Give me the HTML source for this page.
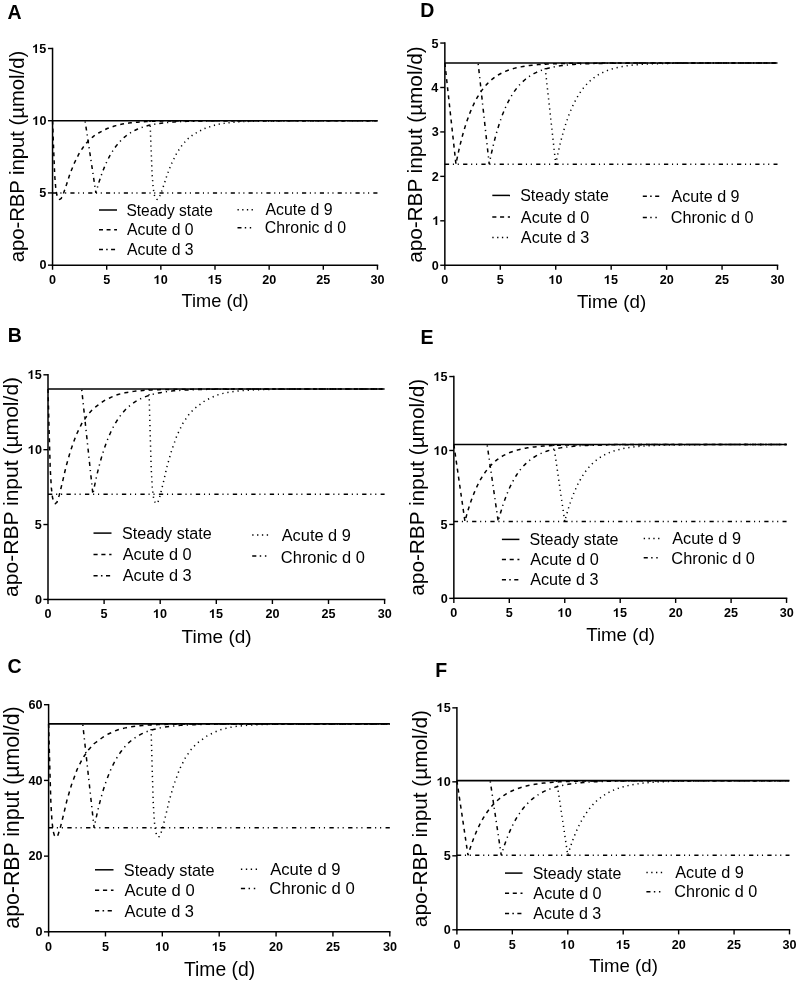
<!DOCTYPE html>
<html><head><meta charset="utf-8"><style>
html,body{margin:0;padding:0;background:#fff;}
svg{display:block;font-family:"Liberation Sans", sans-serif;}
text{fill:#000;}
svg{will-change:transform;}
</style></head><body>
<svg width="799" height="982" viewBox="0 0 799 982">
<rect width="799" height="982" fill="#fff"/>
<g>
<text x="7.51" y="19.00" font-size="19.50" font-weight="bold" text-anchor="start">A</text>
<path d="M52.55,48.50 L52.55,265.15" stroke="#000" stroke-width="1.5" fill="none" stroke-linecap="square"/>
<path d="M52.55,265.15 L377.45,265.15" stroke="#000" stroke-width="1.5" fill="none" stroke-linecap="square"/>
<path d="M47.95,265.15 L52.55,265.15" stroke="#000" stroke-width="1.4"/>
<text x="39.46" y="269.00" font-size="12.60" font-weight="bold" text-anchor="start">0</text>
<path d="M47.95,192.93 L52.55,192.93" stroke="#000" stroke-width="1.4"/>
<text x="39.29" y="197.00" font-size="12.60" font-weight="bold" text-anchor="start">5</text>
<path d="M47.95,120.72 L52.55,120.72" stroke="#000" stroke-width="1.4"/>
<path d="M768,0L768,1430L545,1430Q500,1310 380,1215Q250,1120 124,1080L124,835Q335,905 487,1040L487,0Z" transform="translate(32.45,125.00) scale(0.00615,-0.00615)"/><text x="39.46" y="125.00" font-size="12.60" font-weight="bold" text-anchor="start">0</text>
<path d="M47.95,48.50 L52.55,48.50" stroke="#000" stroke-width="1.4"/>
<path d="M768,0L768,1430L545,1430Q500,1310 380,1215Q250,1120 124,1080L124,835Q335,905 487,1040L487,0Z" transform="translate(32.29,53.00) scale(0.00615,-0.00615)"/><text x="39.29" y="53.00" font-size="12.60" font-weight="bold" text-anchor="start">5</text>
<path d="M52.55,265.15 L52.55,269.75" stroke="#000" stroke-width="1.4"/>
<text x="49.06" y="284.00" font-size="12.60" font-weight="bold" text-anchor="start">0</text>
<path d="M106.70,265.15 L106.70,269.75" stroke="#000" stroke-width="1.4"/>
<text x="103.18" y="284.00" font-size="12.60" font-weight="bold" text-anchor="start">5</text>
<path d="M160.85,265.15 L160.85,269.75" stroke="#000" stroke-width="1.4"/>
<path d="M768,0L768,1430L545,1430Q500,1310 380,1215Q250,1120 124,1080L124,835Q335,905 487,1040L487,0Z" transform="translate(153.72,284.00) scale(0.00615,-0.00615)"/><text x="160.73" y="284.00" font-size="12.60" font-weight="bold" text-anchor="start">0</text>
<path d="M215.00,265.15 L215.00,269.75" stroke="#000" stroke-width="1.4"/>
<path d="M768,0L768,1430L545,1430Q500,1310 380,1215Q250,1120 124,1080L124,835Q335,905 487,1040L487,0Z" transform="translate(207.79,284.00) scale(0.00615,-0.00615)"/><text x="214.79" y="284.00" font-size="12.60" font-weight="bold" text-anchor="start">5</text>
<path d="M269.15,265.15 L269.15,269.75" stroke="#000" stroke-width="1.4"/>
<text x="262.18" y="284.00" font-size="12.60" font-weight="bold" text-anchor="start">20</text>
<path d="M323.30,265.15 L323.30,269.75" stroke="#000" stroke-width="1.4"/>
<text x="316.25" y="284.00" font-size="12.60" font-weight="bold" text-anchor="start">25</text>
<path d="M377.45,265.15 L377.45,269.75" stroke="#000" stroke-width="1.4"/>
<text x="370.56" y="284.00" font-size="12.60" font-weight="bold" text-anchor="start">30</text>
<text transform="translate(24.10,261.50) rotate(-90)" x="-0.86" y="0" font-size="20.21" textLength="211.61" lengthAdjust="spacingAndGlyphs">apo-RBP input (µmol/d)</text>
<text x="181.59" y="307.00" font-size="18.10" font-weight="normal" text-anchor="start" textLength="67.12" lengthAdjust="spacingAndGlyphs">Time (d)</text>
<path d="M52.55,192.93 L377.45,192.93" stroke="#000" stroke-width="1.50" fill="none" stroke-dasharray="4.16 3.66 1.09 3.66 1.09 4.16"/>
<path d="M150.02,120.72 L150.24,126.49 L150.45,132.27 L150.67,138.05 L150.89,143.83 L151.10,149.60 L151.32,154.80 L151.54,160.00 L151.75,165.20 L151.97,170.40 L152.19,175.60 L152.40,178.20 L152.62,180.80 L152.84,183.40 L153.05,186.00 L153.27,188.60 L153.49,189.90 L153.70,191.20 L153.92,192.50 L154.14,193.80 L154.35,195.10 L154.57,195.68 L154.79,196.26 L155.00,196.83 L155.22,197.41 L155.43,197.99 L155.65,198.18 L155.87,198.37 L156.08,198.57 L156.30,198.76 L156.52,198.95 L156.73,199.14 L156.95,199.34 L157.17,199.37 L157.38,199.23 L157.60,199.10 L157.82,198.96 L158.03,198.83 L158.25,198.69 L158.47,198.56 L158.68,198.42 L158.90,197.95 L159.12,197.47 L159.33,196.99 L159.55,196.52 L159.77,196.04 L159.98,195.56 L160.20,195.09 L160.42,194.61 L160.63,194.13 L160.85,193.66 L161.07,193.03 L161.28,192.40 L161.50,191.78 L161.72,191.15 L161.93,190.53 L162.15,189.90 L162.37,189.27 L162.58,188.65 L162.80,188.02 L163.02,187.40 L163.23,186.77 L163.77,185.21 L164.32,183.59 L164.86,181.91 L165.40,180.22 L165.94,178.54 L166.48,176.85 L167.02,175.17 L167.56,173.62 L168.11,172.26 L168.65,170.91 L169.19,169.55 L169.73,168.20 L170.27,166.85 L170.81,165.49 L171.36,164.14 L171.90,162.89 L172.44,161.81 L172.98,160.72 L173.52,159.64 L174.06,158.56 L174.60,157.47 L175.15,156.39 L175.69,155.31 L176.23,154.23 L176.77,153.14 L177.31,152.17 L177.85,151.38 L178.39,150.59 L178.94,149.79 L179.48,149.00 L180.02,148.20 L180.56,147.41 L181.10,146.61 L181.64,145.82 L182.19,145.02 L182.73,144.32 L183.27,143.74 L183.81,143.16 L184.35,142.58 L184.89,142.01 L185.43,141.43 L185.98,140.85 L186.52,140.27 L187.06,139.70 L187.60,139.12 L188.14,138.60 L188.68,138.16 L189.22,137.73 L189.77,137.30 L190.31,136.86 L190.85,136.43 L191.39,136.00 L191.93,135.56 L192.47,135.13 L193.02,134.70 L193.56,134.32 L195.72,133.17 L197.89,132.01 L200.05,130.86 L202.22,129.70 L204.39,128.59 L206.55,127.87 L208.72,127.14 L210.88,126.42 L213.05,125.70 L215.22,125.00 L217.38,124.51 L219.55,124.08 L221.71,123.70 L223.88,123.37 L226.05,123.07 L228.21,122.80 L230.38,122.56 L232.54,122.36 L234.71,122.17 L236.88,122.01 L239.04,121.86 L241.21,121.73 L243.37,121.62 L245.54,121.51 L247.71,121.42 L249.87,121.34 L252.04,121.27 L254.20,121.21 L256.37,121.15 L258.54,121.11 L260.70,121.06 L262.87,121.02 L265.03,120.99 L267.20,120.96 L269.37,120.93 L271.53,120.91 L273.70,120.88 L275.86,120.87 L278.03,120.85 L280.20,120.83 L282.36,120.82 L284.53,120.81 L286.69,120.80 L288.86,120.79 L291.03,120.78 L293.19,120.77 L295.36,120.77 L297.52,120.76 L299.69,120.76 L301.86,120.75 L304.02,120.75 L306.19,120.74 L308.35,120.74 L310.52,120.74 L312.69,120.74 L314.85,120.73 L317.02,120.73 L319.18,120.73 L321.35,120.73 L323.52,120.73 L325.68,120.73 L327.85,120.73 L330.01,120.72 L332.18,120.72 L334.35,120.72 L336.51,120.72 L338.68,120.72 L340.84,120.72 L343.01,120.72 L345.18,120.72 L347.34,120.72 L349.51,120.72 L351.67,120.72 L353.84,120.72 L356.01,120.72 L358.17,120.72 L360.34,120.72 L362.50,120.72 L364.67,120.72 L366.84,120.72 L369.00,120.72 L371.17,120.72 L373.33,120.72 L375.50,120.72 L377.45,120.72" stroke="#000" stroke-width="1.50" fill="none" stroke-dasharray="1.19 3.76"/>
<path d="M85.04,120.72 L85.26,122.16 L85.47,123.61 L85.69,125.05 L85.91,126.49 L86.12,127.94 L86.34,129.38 L86.56,130.83 L86.77,132.27 L86.99,133.72 L87.21,135.16 L87.42,136.60 L87.64,138.05 L87.86,139.49 L88.07,140.94 L88.29,142.38 L88.51,143.83 L88.72,145.27 L88.94,146.71 L89.16,148.16 L89.37,149.60 L89.59,151.05 L89.81,152.49 L90.02,153.94 L90.24,155.38 L90.45,156.82 L90.67,158.27 L90.89,159.71 L91.10,161.16 L91.32,162.60 L91.54,164.05 L91.75,165.49 L91.97,166.94 L92.19,168.38 L92.40,169.82 L92.62,171.27 L92.84,172.71 L93.05,174.16 L93.27,175.60 L93.49,177.05 L93.70,178.49 L93.92,179.93 L94.14,181.38 L94.35,182.82 L94.57,184.27 L94.79,185.71 L95.00,187.16 L95.22,188.60 L95.44,190.04 L95.65,191.49 L95.87,192.93 L96.09,192.13 L96.30,191.33 L96.52,190.55 L96.74,189.77 L96.95,189.00 L97.17,188.24 L97.39,187.49 L97.60,186.74 L97.82,186.01 L98.04,185.28 L98.25,184.56 L98.79,182.80 L99.34,181.09 L99.88,179.42 L100.42,177.80 L100.96,176.22 L101.50,174.69 L102.04,173.20 L102.58,171.75 L103.13,170.34 L103.67,168.97 L104.21,167.64 L104.75,166.34 L105.29,165.08 L105.83,163.86 L106.38,162.67 L106.92,161.51 L107.46,160.38 L108.00,159.29 L108.54,158.22 L109.08,157.19 L109.62,156.18 L110.17,155.20 L110.71,154.25 L111.25,153.32 L111.79,152.42 L112.33,151.55 L112.87,150.69 L113.41,149.87 L113.96,149.06 L114.50,148.28 L115.04,147.52 L115.58,146.78 L116.12,146.06 L116.66,145.36 L117.21,144.68 L117.75,144.02 L118.29,143.37 L118.83,142.75 L119.37,142.14 L119.91,141.55 L120.45,140.97 L121.00,140.41 L121.54,139.87 L122.08,139.34 L122.62,138.83 L123.16,138.33 L123.70,137.84 L124.24,137.37 L124.79,136.91 L125.33,136.46 L125.87,136.03 L126.41,135.60 L126.95,135.19 L127.49,134.79 L128.04,134.40 L128.58,134.03 L130.74,132.62 L132.91,131.36 L135.07,130.23 L137.24,129.22 L139.41,128.32 L141.57,127.51 L143.74,126.79 L145.90,126.15 L148.07,125.57 L150.24,125.06 L152.40,124.60 L154.57,124.19 L156.73,123.82 L158.90,123.49 L161.07,123.20 L163.23,122.93 L165.40,122.70 L167.56,122.49 L169.73,122.30 L171.90,122.13 L174.06,121.98 L176.23,121.85 L178.39,121.73 L180.56,121.62 L182.73,121.53 L184.89,121.44 L187.06,121.36 L189.22,121.30 L191.39,121.23 L193.56,121.18 L195.72,121.13 L197.89,121.09 L200.05,121.05 L202.22,121.01 L204.39,120.98 L206.55,120.95 L208.72,120.93 L210.88,120.91 L213.05,120.89 L215.22,120.87 L217.38,120.85 L219.55,120.84 L221.71,120.82 L223.88,120.81 L226.05,120.80 L228.21,120.79 L230.38,120.79 L232.54,120.78 L234.71,120.77 L236.88,120.77 L239.04,120.76 L241.21,120.76 L243.37,120.75 L245.54,120.75 L247.71,120.74 L249.87,120.74 L252.04,120.74 L254.20,120.74 L256.37,120.73 L258.54,120.73 L260.70,120.73 L262.87,120.73 L265.03,120.73 L267.20,120.73 L269.37,120.73 L271.53,120.72 L273.70,120.72 L275.86,120.72 L278.03,120.72 L280.20,120.72 L282.36,120.72 L284.53,120.72 L286.69,120.72 L288.86,120.72 L291.03,120.72 L293.19,120.72 L295.36,120.72 L297.52,120.72 L299.69,120.72 L301.86,120.72 L304.02,120.72 L306.19,120.72 L308.35,120.72 L310.52,120.72 L312.69,120.72 L314.85,120.72 L317.02,120.72 L319.18,120.72 L321.35,120.72 L323.52,120.72 L325.68,120.72 L327.85,120.72 L330.01,120.72 L332.18,120.72 L334.35,120.72 L336.51,120.72 L338.68,120.72 L340.84,120.72 L343.01,120.72 L345.18,120.72 L347.34,120.72 L349.51,120.72 L351.67,120.72 L353.84,120.72 L356.01,120.72 L358.17,120.72 L360.34,120.72 L362.50,120.72 L364.67,120.72 L366.84,120.72 L369.00,120.72 L371.17,120.72 L373.33,120.72 L375.50,120.72 L377.45,120.72" stroke="#000" stroke-width="1.50" fill="none" stroke-dasharray="3.96 3.86 1.19 3.96" stroke-dashoffset="7.03"/>
<path d="M52.55,120.72 L52.77,126.49 L52.98,132.27 L53.20,138.05 L53.42,143.83 L53.63,149.60 L53.85,154.80 L54.07,160.00 L54.28,165.20 L54.50,170.40 L54.72,175.60 L54.93,178.20 L55.15,180.80 L55.37,183.40 L55.58,186.00 L55.80,188.60 L56.02,189.90 L56.23,191.20 L56.45,192.50 L56.67,193.80 L56.88,195.10 L57.10,195.68 L57.32,196.26 L57.53,196.83 L57.75,197.41 L57.96,197.99 L58.18,198.18 L58.40,198.37 L58.61,198.57 L58.83,198.76 L59.05,198.95 L59.26,199.14 L59.48,199.34 L59.70,199.37 L59.91,199.23 L60.13,199.10 L60.35,198.96 L60.56,198.83 L60.78,198.69 L61.00,198.56 L61.21,198.42 L61.43,197.95 L61.65,197.47 L61.86,196.99 L62.08,196.52 L62.30,196.04 L62.51,195.56 L62.73,195.09 L62.95,194.61 L63.16,194.13 L63.38,193.66 L63.60,193.03 L63.81,192.40 L64.03,191.78 L64.25,191.15 L64.46,190.53 L64.68,189.90 L64.90,189.27 L65.11,188.65 L65.33,188.02 L65.55,187.40 L66.09,185.83 L66.63,184.27 L67.17,182.58 L67.71,180.90 L68.25,179.21 L68.80,177.53 L69.34,175.84 L69.88,174.16 L70.42,172.80 L70.96,171.45 L71.50,170.09 L72.04,168.74 L72.59,167.39 L73.13,166.03 L73.67,164.68 L74.21,163.32 L74.75,162.24 L75.29,161.16 L75.83,160.07 L76.38,158.99 L76.92,157.91 L77.46,156.82 L78.00,155.74 L78.54,154.66 L79.08,153.58 L79.62,152.49 L80.17,151.70 L80.71,150.90 L81.25,150.11 L81.79,149.31 L82.33,148.52 L82.87,147.73 L83.42,146.93 L83.96,146.14 L84.50,145.34 L85.04,144.55 L85.58,143.97 L86.12,143.39 L86.66,142.81 L87.21,142.24 L87.75,141.66 L88.29,141.08 L88.83,140.50 L89.37,139.93 L89.91,139.35 L90.45,138.77 L91.00,138.34 L91.54,137.90 L92.08,137.47 L92.62,137.04 L93.16,136.60 L93.70,136.17 L94.25,135.74 L94.79,135.30 L95.33,134.87 L95.87,134.44 L96.41,134.15 L98.58,132.99 L100.74,131.84 L102.91,130.68 L105.08,129.53 L107.24,128.48 L109.41,127.76 L111.57,127.04 L113.74,126.31 L115.91,125.59 L118.07,124.92 L120.24,124.45 L122.40,124.02 L124.57,123.65 L126.74,123.32 L128.90,123.02 L131.07,122.76 L133.23,122.53 L135.40,122.33 L137.57,122.14 L139.73,121.98 L141.90,121.84 L144.06,121.71 L146.23,121.60 L148.40,121.50 L150.56,121.41 L152.73,121.33 L154.89,121.26 L157.06,121.20 L159.23,121.15 L161.39,121.10 L163.56,121.05 L165.72,121.02 L167.89,120.98 L170.06,120.95 L172.22,120.93 L174.39,120.90 L176.55,120.88 L178.72,120.86 L180.89,120.85 L183.05,120.83 L185.22,120.82 L187.38,120.81 L189.55,120.80 L191.72,120.79 L193.88,120.78 L196.05,120.77 L198.21,120.77 L200.38,120.76 L202.55,120.76 L204.71,120.75 L206.88,120.75 L209.04,120.74 L211.21,120.74 L213.38,120.74 L215.54,120.74 L217.71,120.73 L219.87,120.73 L222.04,120.73 L224.21,120.73 L226.37,120.73 L228.54,120.73 L230.70,120.72 L232.87,120.72 L235.04,120.72 L237.20,120.72 L239.37,120.72 L241.53,120.72 L243.70,120.72 L245.87,120.72 L248.03,120.72 L250.20,120.72 L252.36,120.72 L254.53,120.72 L256.70,120.72 L258.86,120.72 L261.03,120.72 L263.19,120.72 L265.36,120.72 L267.53,120.72 L269.69,120.72 L271.86,120.72 L274.02,120.72 L276.19,120.72 L278.36,120.72 L280.52,120.72 L282.69,120.72 L284.85,120.72 L287.02,120.72 L289.19,120.72 L291.35,120.72 L293.52,120.72 L295.68,120.72 L297.85,120.72 L300.02,120.72 L302.18,120.72 L304.35,120.72 L306.51,120.72 L308.68,120.72 L310.85,120.72 L313.01,120.72 L315.18,120.72 L317.34,120.72 L319.51,120.72 L321.68,120.72 L323.84,120.72 L326.01,120.72 L328.17,120.72 L330.34,120.72 L332.51,120.72 L334.67,120.72 L336.84,120.72 L339.00,120.72 L341.17,120.72 L343.34,120.72 L345.50,120.72 L347.67,120.72 L349.83,120.72 L352.00,120.72 L354.17,120.72 L356.33,120.72 L358.50,120.72 L360.66,120.72 L362.83,120.72 L365.00,120.72 L367.16,120.72 L369.33,120.72 L371.49,120.72 L373.66,120.72 L375.83,120.72 L377.45,120.72" stroke="#000" stroke-width="1.50" fill="none" stroke-dasharray="3.86 4.06"/>
<path d="M52.55,120.72 L377.45,120.72" stroke="#000" stroke-width="1.60" fill="none"/>
<path d="M99.00,210.00 L117.00,210.00" stroke="#000" stroke-width="1.50" fill="none"/>
<text x="126.39" y="215.60" font-size="15.76" font-weight="normal" text-anchor="start" textLength="86.40" lengthAdjust="spacingAndGlyphs">Steady state</text>
<path d="M99.00,229.70 L117.00,229.70" stroke="#000" stroke-width="1.50" fill="none" stroke-dasharray="3.99 3.59"/>
<text x="127.07" y="235.00" font-size="15.76" font-weight="normal" text-anchor="start" textLength="66.45" lengthAdjust="spacingAndGlyphs">Acute d 0</text>
<path d="M99.00,249.40 L117.00,249.40" stroke="#000" stroke-width="1.50" fill="none" stroke-dasharray="3.99 3.19 1.50 3.39"/>
<text x="127.07" y="255.00" font-size="15.76" font-weight="normal" text-anchor="start" textLength="66.52" lengthAdjust="spacingAndGlyphs">Acute d 3</text>
<path d="M237.50,209.80 L254.00,209.80" stroke="#000" stroke-width="1.50" fill="none" stroke-dasharray="1.30 3.39"/>
<text x="265.47" y="215.30" font-size="15.76" font-weight="normal" text-anchor="start" textLength="67.08" lengthAdjust="spacingAndGlyphs">Acute d 9</text>
<path d="M237.50,227.80 L254.00,227.80" stroke="#000" stroke-width="1.50" fill="none" stroke-dasharray="3.99 3.29 1.40 3.59 1.40 3.99"/>
<text x="264.69" y="233.30" font-size="15.76" font-weight="normal" text-anchor="start" textLength="81.33" lengthAdjust="spacingAndGlyphs">Chronic d 0</text>
</g>
<g>
<text x="7.70" y="342.00" font-size="19.50" font-weight="bold" text-anchor="start">B</text>
<path d="M48.00,374.80 L48.00,599.40" stroke="#000" stroke-width="1.5" fill="none" stroke-linecap="square"/>
<path d="M48.00,599.40 L384.60,599.40" stroke="#000" stroke-width="1.5" fill="none" stroke-linecap="square"/>
<path d="M43.40,599.40 L48.00,599.40" stroke="#000" stroke-width="1.4"/>
<text x="34.91" y="604.00" font-size="12.60" font-weight="bold" text-anchor="start">0</text>
<path d="M43.40,524.53 L48.00,524.53" stroke="#000" stroke-width="1.4"/>
<text x="34.74" y="529.00" font-size="12.60" font-weight="bold" text-anchor="start">5</text>
<path d="M43.40,449.67 L48.00,449.67" stroke="#000" stroke-width="1.4"/>
<path d="M768,0L768,1430L545,1430Q500,1310 380,1215Q250,1120 124,1080L124,835Q335,905 487,1040L487,0Z" transform="translate(27.90,454.00) scale(0.00615,-0.00615)"/><text x="34.91" y="454.00" font-size="12.60" font-weight="bold" text-anchor="start">0</text>
<path d="M43.40,374.80 L48.00,374.80" stroke="#000" stroke-width="1.4"/>
<path d="M768,0L768,1430L545,1430Q500,1310 380,1215Q250,1120 124,1080L124,835Q335,905 487,1040L487,0Z" transform="translate(27.74,379.00) scale(0.00615,-0.00615)"/><text x="34.74" y="379.00" font-size="12.60" font-weight="bold" text-anchor="start">5</text>
<path d="M48.00,599.40 L48.00,604.00" stroke="#000" stroke-width="1.4"/>
<text x="44.51" y="618.00" font-size="12.60" font-weight="bold" text-anchor="start">0</text>
<path d="M104.10,599.40 L104.10,604.00" stroke="#000" stroke-width="1.4"/>
<text x="100.58" y="618.00" font-size="12.60" font-weight="bold" text-anchor="start">5</text>
<path d="M160.20,599.40 L160.20,604.00" stroke="#000" stroke-width="1.4"/>
<path d="M768,0L768,1430L545,1430Q500,1310 380,1215Q250,1120 124,1080L124,835Q335,905 487,1040L487,0Z" transform="translate(153.07,618.00) scale(0.00615,-0.00615)"/><text x="160.08" y="618.00" font-size="12.60" font-weight="bold" text-anchor="start">0</text>
<path d="M216.30,599.40 L216.30,604.00" stroke="#000" stroke-width="1.4"/>
<path d="M768,0L768,1430L545,1430Q500,1310 380,1215Q250,1120 124,1080L124,835Q335,905 487,1040L487,0Z" transform="translate(209.09,618.00) scale(0.00615,-0.00615)"/><text x="216.09" y="618.00" font-size="12.60" font-weight="bold" text-anchor="start">5</text>
<path d="M272.40,599.40 L272.40,604.00" stroke="#000" stroke-width="1.4"/>
<text x="265.43" y="618.00" font-size="12.60" font-weight="bold" text-anchor="start">20</text>
<path d="M328.50,599.40 L328.50,604.00" stroke="#000" stroke-width="1.4"/>
<text x="321.45" y="618.00" font-size="12.60" font-weight="bold" text-anchor="start">25</text>
<path d="M384.60,599.40 L384.60,604.00" stroke="#000" stroke-width="1.4"/>
<text x="377.71" y="618.00" font-size="12.60" font-weight="bold" text-anchor="start">30</text>
<text transform="translate(17.70,596.10) rotate(-90)" x="-0.89" y="0" font-size="21.02" textLength="220.10" lengthAdjust="spacingAndGlyphs">apo-RBP input (µmol/d)</text>
<text x="181.58" y="642.75" font-size="19.20" font-weight="normal" text-anchor="start" textLength="70.09" lengthAdjust="spacingAndGlyphs">Time (d)</text>
<path d="M48.00,494.21 L384.60,494.21" stroke="#000" stroke-width="1.50" fill="none" stroke-dasharray="4.31 3.80 1.13 3.80 1.13 4.31"/>
<path d="M148.98,389.02 L149.20,397.44 L149.43,405.85 L149.65,414.27 L149.88,422.68 L150.10,431.10 L150.33,438.67 L150.55,446.25 L150.78,453.82 L151.00,461.39 L151.22,468.97 L151.45,472.75 L151.67,476.54 L151.90,480.33 L152.12,484.11 L152.35,487.90 L152.57,489.79 L152.79,491.69 L153.02,493.58 L153.24,495.47 L153.47,497.37 L153.69,498.21 L153.92,499.05 L154.14,499.89 L154.37,500.73 L154.59,501.58 L154.81,501.86 L155.04,502.14 L155.26,502.42 L155.49,502.70 L155.71,502.98 L155.94,503.26 L156.16,503.54 L156.39,503.58 L156.61,503.38 L156.83,503.19 L157.06,502.99 L157.28,502.80 L157.51,502.60 L157.73,502.40 L157.96,502.21 L158.18,501.51 L158.40,500.82 L158.63,500.12 L158.85,499.43 L159.08,498.74 L159.30,498.04 L159.53,497.35 L159.75,496.65 L159.98,495.96 L160.20,495.26 L160.42,494.35 L160.65,493.44 L160.87,492.53 L161.10,491.62 L161.32,490.71 L161.55,489.79 L161.77,488.88 L162.00,487.97 L162.22,487.06 L162.44,486.15 L162.67,485.24 L163.23,482.96 L163.79,480.61 L164.35,478.15 L164.91,475.70 L165.47,473.24 L166.03,470.79 L166.60,468.34 L167.16,466.07 L167.72,464.10 L168.28,462.13 L168.84,460.16 L169.40,458.19 L169.96,456.21 L170.52,454.24 L171.08,452.27 L171.64,450.45 L172.21,448.88 L172.77,447.30 L173.33,445.72 L173.89,444.14 L174.45,442.57 L175.01,440.99 L175.57,439.41 L176.13,437.83 L176.69,436.25 L177.25,434.84 L177.82,433.69 L178.38,432.53 L178.94,431.37 L179.50,430.22 L180.06,429.06 L180.62,427.90 L181.18,426.74 L181.74,425.59 L182.30,424.43 L182.86,423.40 L183.43,422.56 L183.99,421.72 L184.55,420.88 L185.11,420.03 L185.67,419.19 L186.23,418.35 L186.79,417.51 L187.35,416.67 L187.91,415.83 L188.47,415.07 L189.04,414.44 L189.60,413.81 L190.16,413.18 L190.72,412.54 L191.28,411.91 L191.84,411.28 L192.40,410.65 L192.96,410.02 L193.52,409.39 L194.08,408.84 L196.33,407.16 L198.57,405.48 L200.82,403.79 L203.06,402.11 L205.30,400.49 L207.55,399.44 L209.79,398.39 L212.04,397.33 L214.28,396.28 L216.52,395.26 L218.77,394.56 L221.01,393.93 L223.26,393.38 L225.50,392.88 L227.74,392.45 L229.99,392.06 L232.23,391.72 L234.48,391.41 L236.72,391.14 L238.96,390.90 L241.21,390.69 L243.45,390.50 L245.70,390.34 L247.94,390.19 L250.18,390.06 L252.43,389.94 L254.67,389.84 L256.92,389.74 L259.16,389.66 L261.40,389.59 L263.65,389.53 L265.89,389.47 L268.14,389.42 L270.38,389.37 L272.62,389.34 L274.87,389.30 L277.11,389.27 L279.36,389.24 L281.60,389.22 L283.84,389.20 L286.09,389.18 L288.33,389.16 L290.58,389.14 L292.82,389.13 L295.06,389.12 L297.31,389.11 L299.55,389.10 L301.80,389.09 L304.04,389.08 L306.28,389.08 L308.53,389.07 L310.77,389.07 L313.02,389.06 L315.26,389.06 L317.50,389.05 L319.75,389.05 L321.99,389.05 L324.24,389.04 L326.48,389.04 L328.72,389.04 L330.97,389.04 L333.21,389.04 L335.46,389.04 L337.70,389.03 L339.94,389.03 L342.19,389.03 L344.43,389.03 L346.68,389.03 L348.92,389.03 L351.16,389.03 L353.41,389.03 L355.65,389.03 L357.90,389.03 L360.14,389.03 L362.38,389.03 L364.63,389.03 L366.87,389.03 L369.12,389.03 L371.36,389.03 L373.60,389.03 L375.85,389.03 L378.09,389.03 L380.34,389.03 L382.58,389.03 L384.60,389.03" stroke="#000" stroke-width="1.50" fill="none" stroke-dasharray="1.23 3.90"/>
<path d="M81.66,389.02 L81.88,391.13 L82.11,393.23 L82.33,395.34 L82.56,397.44 L82.78,399.54 L83.01,401.65 L83.23,403.75 L83.46,405.85 L83.68,407.96 L83.90,410.06 L84.13,412.17 L84.35,414.27 L84.58,416.37 L84.80,418.48 L85.03,420.58 L85.25,422.68 L85.47,424.79 L85.70,426.89 L85.92,429.00 L86.15,431.10 L86.37,433.20 L86.60,435.31 L86.82,437.41 L87.05,439.51 L87.27,441.62 L87.49,443.72 L87.72,445.83 L87.94,447.93 L88.17,450.03 L88.39,452.14 L88.62,454.24 L88.84,456.34 L89.07,458.45 L89.29,460.55 L89.51,462.66 L89.74,464.76 L89.96,466.86 L90.19,468.97 L90.41,471.07 L90.64,473.17 L90.86,475.28 L91.08,477.38 L91.31,479.49 L91.53,481.59 L91.76,483.69 L91.98,485.80 L92.21,487.90 L92.43,490.00 L92.66,492.11 L92.88,494.21 L93.10,493.04 L93.33,491.88 L93.55,490.74 L93.78,489.60 L94.00,488.48 L94.23,487.38 L94.45,486.28 L94.68,485.20 L94.90,484.13 L95.12,483.07 L95.35,482.02 L95.91,479.45 L96.47,476.96 L97.03,474.53 L97.59,472.17 L98.15,469.87 L98.71,467.64 L99.28,465.47 L99.84,463.36 L100.40,461.30 L100.96,459.31 L101.52,457.37 L102.08,455.48 L102.64,453.65 L103.20,451.86 L103.76,450.13 L104.32,448.44 L104.89,446.80 L105.45,445.20 L106.01,443.65 L106.57,442.14 L107.13,440.68 L107.69,439.25 L108.25,437.86 L108.81,436.52 L109.37,435.20 L109.93,433.93 L110.50,432.69 L111.06,431.48 L111.62,430.31 L112.18,429.17 L112.74,428.06 L113.30,426.99 L113.86,425.94 L114.42,424.92 L114.98,423.93 L115.54,422.96 L116.11,422.03 L116.67,421.11 L117.23,420.23 L117.79,419.37 L118.35,418.53 L118.91,417.71 L119.47,416.92 L120.03,416.15 L120.59,415.40 L121.15,414.67 L121.72,413.97 L122.28,413.28 L122.84,412.61 L123.40,411.96 L123.96,411.32 L124.52,410.71 L125.08,410.11 L125.64,409.53 L126.20,408.96 L126.76,408.41 L129.01,406.36 L131.25,404.52 L133.50,402.88 L135.74,401.41 L137.98,400.10 L140.23,398.92 L142.47,397.88 L144.72,396.94 L146.96,396.10 L149.20,395.35 L151.45,394.68 L153.69,394.08 L155.94,393.54 L158.18,393.07 L160.42,392.64 L162.67,392.25 L164.91,391.91 L167.16,391.61 L169.40,391.33 L171.64,391.09 L173.89,390.87 L176.13,390.67 L178.38,390.50 L180.62,390.34 L182.86,390.20 L185.11,390.08 L187.35,389.97 L189.60,389.87 L191.84,389.78 L194.08,389.70 L196.33,389.63 L198.57,389.56 L200.82,389.51 L203.06,389.45 L205.30,389.41 L207.55,389.37 L209.79,389.33 L212.04,389.30 L214.28,389.27 L216.52,389.24 L218.77,389.22 L221.01,389.20 L223.26,389.18 L225.50,389.17 L227.74,389.15 L229.99,389.14 L232.23,389.12 L234.48,389.11 L236.72,389.10 L238.96,389.10 L241.21,389.09 L243.45,389.08 L245.70,389.08 L247.94,389.07 L250.18,389.07 L252.43,389.06 L254.67,389.06 L256.92,389.05 L259.16,389.05 L261.40,389.05 L263.65,389.05 L265.89,389.04 L268.14,389.04 L270.38,389.04 L272.62,389.04 L274.87,389.04 L277.11,389.04 L279.36,389.03 L281.60,389.03 L283.84,389.03 L286.09,389.03 L288.33,389.03 L290.58,389.03 L292.82,389.03 L295.06,389.03 L297.31,389.03 L299.55,389.03 L301.80,389.03 L304.04,389.03 L306.28,389.03 L308.53,389.03 L310.77,389.03 L313.02,389.03 L315.26,389.03 L317.50,389.03 L319.75,389.03 L321.99,389.03 L324.24,389.03 L326.48,389.03 L328.72,389.03 L330.97,389.03 L333.21,389.03 L335.46,389.03 L337.70,389.03 L339.94,389.03 L342.19,389.03 L344.43,389.03 L346.68,389.02 L348.92,389.02 L351.16,389.02 L353.41,389.02 L355.65,389.02 L357.90,389.02 L360.14,389.02 L362.38,389.02 L364.63,389.02 L366.87,389.02 L369.12,389.02 L371.36,389.02 L373.60,389.02 L375.85,389.02 L378.09,389.02 L380.34,389.02 L382.58,389.02 L384.60,389.02" stroke="#000" stroke-width="1.50" fill="none" stroke-dasharray="4.10 4.00 1.23 4.10" stroke-dashoffset="7.28"/>
<path d="M48.00,389.02 L48.22,397.44 L48.45,405.85 L48.67,414.27 L48.90,422.68 L49.12,431.10 L49.35,438.67 L49.57,446.25 L49.80,453.82 L50.02,461.39 L50.24,468.97 L50.47,472.75 L50.69,476.54 L50.92,480.33 L51.14,484.11 L51.37,487.90 L51.59,489.79 L51.81,491.69 L52.04,493.58 L52.26,495.47 L52.49,497.37 L52.71,498.21 L52.94,499.05 L53.16,499.89 L53.39,500.73 L53.61,501.58 L53.83,501.86 L54.06,502.14 L54.28,502.42 L54.51,502.70 L54.73,502.98 L54.96,503.26 L55.18,503.54 L55.41,503.58 L55.63,503.38 L55.85,503.19 L56.08,502.99 L56.30,502.80 L56.53,502.60 L56.75,502.40 L56.98,502.21 L57.20,501.51 L57.42,500.82 L57.65,500.12 L57.87,499.43 L58.10,498.74 L58.32,498.04 L58.55,497.35 L58.77,496.65 L59.00,495.96 L59.22,495.26 L59.44,494.35 L59.67,493.44 L59.89,492.53 L60.12,491.62 L60.34,490.71 L60.57,489.79 L60.79,488.88 L61.02,487.97 L61.24,487.06 L61.46,486.15 L62.03,483.87 L62.59,481.59 L63.15,479.14 L63.71,476.68 L64.27,474.23 L64.83,471.77 L65.39,469.32 L65.95,466.86 L66.51,464.89 L67.07,462.92 L67.64,460.95 L68.20,458.97 L68.76,457.00 L69.32,455.03 L69.88,453.06 L70.44,451.09 L71.00,449.51 L71.56,447.93 L72.12,446.35 L72.68,444.77 L73.25,443.20 L73.81,441.62 L74.37,440.04 L74.93,438.46 L75.49,436.89 L76.05,435.31 L76.61,434.15 L77.17,432.99 L77.73,431.84 L78.29,430.68 L78.85,429.52 L79.42,428.36 L79.98,427.21 L80.54,426.05 L81.10,424.89 L81.66,423.74 L82.22,422.90 L82.78,422.05 L83.34,421.21 L83.90,420.37 L84.46,419.53 L85.03,418.69 L85.59,417.85 L86.15,417.00 L86.71,416.16 L87.27,415.32 L87.83,414.69 L88.39,414.06 L88.95,413.43 L89.51,412.80 L90.07,412.17 L90.64,411.53 L91.20,410.90 L91.76,410.27 L92.32,409.64 L92.88,409.01 L93.44,408.59 L95.68,406.91 L97.93,405.22 L100.17,403.54 L102.42,401.86 L104.66,400.33 L106.90,399.28 L109.15,398.23 L111.39,397.18 L113.64,396.12 L115.88,395.15 L118.12,394.46 L120.37,393.84 L122.61,393.30 L124.86,392.81 L127.10,392.39 L129.34,392.01 L131.59,391.67 L133.83,391.37 L136.08,391.10 L138.32,390.87 L140.56,390.66 L142.81,390.48 L145.05,390.31 L147.30,390.17 L149.54,390.04 L151.78,389.92 L154.03,389.82 L156.27,389.73 L158.52,389.65 L160.76,389.58 L163.00,389.52 L165.25,389.46 L167.49,389.41 L169.74,389.37 L171.98,389.33 L174.22,389.30 L176.47,389.26 L178.71,389.24 L180.96,389.21 L183.20,389.19 L185.44,389.17 L187.69,389.16 L189.93,389.14 L192.18,389.13 L194.42,389.12 L196.66,389.11 L198.91,389.10 L201.15,389.09 L203.40,389.08 L205.64,389.08 L207.88,389.07 L210.13,389.06 L212.37,389.06 L214.62,389.06 L216.86,389.05 L219.10,389.05 L221.35,389.05 L223.59,389.04 L225.84,389.04 L228.08,389.04 L230.32,389.04 L232.57,389.04 L234.81,389.04 L237.06,389.03 L239.30,389.03 L241.54,389.03 L243.79,389.03 L246.03,389.03 L248.28,389.03 L250.52,389.03 L252.76,389.03 L255.01,389.03 L257.25,389.03 L259.50,389.03 L261.74,389.03 L263.98,389.03 L266.23,389.03 L268.47,389.03 L270.72,389.03 L272.96,389.03 L275.20,389.03 L277.45,389.03 L279.69,389.03 L281.94,389.03 L284.18,389.03 L286.42,389.03 L288.67,389.03 L290.91,389.03 L293.16,389.03 L295.40,389.03 L297.64,389.03 L299.89,389.02 L302.13,389.02 L304.38,389.02 L306.62,389.02 L308.86,389.02 L311.11,389.02 L313.35,389.02 L315.60,389.02 L317.84,389.02 L320.08,389.02 L322.33,389.02 L324.57,389.02 L326.82,389.02 L329.06,389.02 L331.30,389.02 L333.55,389.02 L335.79,389.02 L338.04,389.02 L340.28,389.02 L342.52,389.02 L344.77,389.02 L347.01,389.02 L349.26,389.02 L351.50,389.02 L353.74,389.02 L355.99,389.02 L358.23,389.02 L360.48,389.02 L362.72,389.02 L364.96,389.02 L367.21,389.02 L369.45,389.02 L371.70,389.02 L373.94,389.02 L376.18,389.02 L378.43,389.02 L380.67,389.02 L382.92,389.02 L384.60,389.02" stroke="#000" stroke-width="1.50" fill="none" stroke-dasharray="4.00 4.21"/>
<path d="M48.00,389.02 L384.60,389.02" stroke="#000" stroke-width="1.60" fill="none"/>
<path d="M93.50,533.10 L111.50,533.10" stroke="#000" stroke-width="1.50" fill="none"/>
<text x="121.97" y="539.40" font-size="16.32" font-weight="normal" text-anchor="start" textLength="89.65" lengthAdjust="spacingAndGlyphs">Steady state</text>
<path d="M93.50,554.40 L111.50,554.40" stroke="#000" stroke-width="1.50" fill="none" stroke-dasharray="4.13 3.72"/>
<text x="122.67" y="560.00" font-size="16.32" font-weight="normal" text-anchor="start" textLength="68.97" lengthAdjust="spacingAndGlyphs">Acute d 0</text>
<path d="M93.50,575.70 L111.50,575.70" stroke="#000" stroke-width="1.50" fill="none" stroke-dasharray="4.13 3.31 1.55 3.51"/>
<text x="122.67" y="581.30" font-size="16.32" font-weight="normal" text-anchor="start" textLength="69.05" lengthAdjust="spacingAndGlyphs">Acute d 3</text>
<path d="M252.20,535.00 L268.50,535.00" stroke="#000" stroke-width="1.50" fill="none" stroke-dasharray="1.34 3.51"/>
<text x="281.67" y="540.80" font-size="16.32" font-weight="normal" text-anchor="start" textLength="69.21" lengthAdjust="spacingAndGlyphs">Acute d 9</text>
<path d="M252.20,556.10 L268.50,556.10" stroke="#000" stroke-width="1.50" fill="none" stroke-dasharray="4.13 3.41 1.45 3.72 1.45 4.13"/>
<text x="280.87" y="562.60" font-size="16.32" font-weight="normal" text-anchor="start" textLength="84.08" lengthAdjust="spacingAndGlyphs">Chronic d 0</text>
</g>
<g>
<text x="7.45" y="672.50" font-size="19.50" font-weight="bold" text-anchor="start">C</text>
<path d="M48.60,704.70 L48.60,931.85" stroke="#000" stroke-width="1.5" fill="none" stroke-linecap="square"/>
<path d="M48.60,931.85 L389.80,931.85" stroke="#000" stroke-width="1.5" fill="none" stroke-linecap="square"/>
<path d="M44.00,931.85 L48.60,931.85" stroke="#000" stroke-width="1.4"/>
<text x="35.51" y="936.00" font-size="12.60" font-weight="bold" text-anchor="start">0</text>
<path d="M44.00,856.13 L48.60,856.13" stroke="#000" stroke-width="1.4"/>
<text x="28.50" y="860.00" font-size="12.60" font-weight="bold" text-anchor="start">20</text>
<path d="M44.00,780.42 L48.60,780.42" stroke="#000" stroke-width="1.4"/>
<text x="28.50" y="785.00" font-size="12.60" font-weight="bold" text-anchor="start">40</text>
<path d="M44.00,704.70 L48.60,704.70" stroke="#000" stroke-width="1.4"/>
<text x="28.50" y="709.00" font-size="12.60" font-weight="bold" text-anchor="start">60</text>
<path d="M48.60,931.85 L48.60,936.45" stroke="#000" stroke-width="1.4"/>
<text x="45.11" y="951.00" font-size="12.60" font-weight="bold" text-anchor="start">0</text>
<path d="M105.47,931.85 L105.47,936.45" stroke="#000" stroke-width="1.4"/>
<text x="101.94" y="951.00" font-size="12.60" font-weight="bold" text-anchor="start">5</text>
<path d="M162.33,931.85 L162.33,936.45" stroke="#000" stroke-width="1.4"/>
<path d="M768,0L768,1430L545,1430Q500,1310 380,1215Q250,1120 124,1080L124,835Q335,905 487,1040L487,0Z" transform="translate(155.20,951.00) scale(0.00615,-0.00615)"/><text x="162.21" y="951.00" font-size="12.60" font-weight="bold" text-anchor="start">0</text>
<path d="M219.20,931.85 L219.20,936.45" stroke="#000" stroke-width="1.4"/>
<path d="M768,0L768,1430L545,1430Q500,1310 380,1215Q250,1120 124,1080L124,835Q335,905 487,1040L487,0Z" transform="translate(211.99,951.00) scale(0.00615,-0.00615)"/><text x="218.99" y="951.00" font-size="12.60" font-weight="bold" text-anchor="start">5</text>
<path d="M276.07,931.85 L276.07,936.45" stroke="#000" stroke-width="1.4"/>
<text x="269.10" y="951.00" font-size="12.60" font-weight="bold" text-anchor="start">20</text>
<path d="M332.93,931.85 L332.93,936.45" stroke="#000" stroke-width="1.4"/>
<text x="325.88" y="951.00" font-size="12.60" font-weight="bold" text-anchor="start">25</text>
<path d="M389.80,931.85 L389.80,936.45" stroke="#000" stroke-width="1.4"/>
<text x="382.91" y="951.00" font-size="12.60" font-weight="bold" text-anchor="start">30</text>
<text transform="translate(18.80,927.80) rotate(-90)" x="-0.90" y="0" font-size="21.24" textLength="222.32" lengthAdjust="spacingAndGlyphs">apo-RBP input (µmol/d)</text>
<text x="183.97" y="975.80" font-size="19.30" font-weight="normal" text-anchor="start" textLength="71.11" lengthAdjust="spacingAndGlyphs">Time (d)</text>
<path d="M48.60,827.87 L389.80,827.87" stroke="#000" stroke-width="1.50" fill="none" stroke-dasharray="4.37 3.85 1.14 3.85 1.14 4.37"/>
<path d="M150.96,723.89 L151.19,732.21 L151.41,740.53 L151.64,748.85 L151.87,757.17 L152.10,765.49 L152.32,772.97 L152.55,780.46 L152.78,787.94 L153.01,795.43 L153.23,802.92 L153.46,806.66 L153.69,810.40 L153.92,814.15 L154.14,817.89 L154.37,821.63 L154.60,823.51 L154.83,825.38 L155.05,827.25 L155.28,829.12 L155.51,830.99 L155.74,831.82 L155.96,832.66 L156.19,833.49 L156.42,834.32 L156.65,835.15 L156.87,835.43 L157.10,835.71 L157.33,835.98 L157.56,836.26 L157.78,836.54 L158.01,836.81 L158.24,837.09 L158.47,837.13 L158.69,836.94 L158.92,836.74 L159.15,836.55 L159.38,836.36 L159.60,836.16 L159.83,835.97 L160.06,835.77 L160.29,835.09 L160.51,834.40 L160.74,833.72 L160.97,833.03 L161.20,832.34 L161.42,831.66 L161.65,830.97 L161.88,830.28 L162.11,829.60 L162.33,828.91 L162.56,828.01 L162.79,827.11 L163.02,826.21 L163.24,825.31 L163.47,824.41 L163.70,823.51 L163.93,822.60 L164.15,821.70 L164.38,820.80 L164.61,819.90 L164.84,819.00 L165.40,816.75 L165.97,814.42 L166.54,812.00 L167.11,809.57 L167.68,807.15 L168.25,804.72 L168.82,802.29 L169.38,800.06 L169.95,798.11 L170.52,796.16 L171.09,794.21 L171.66,792.26 L172.23,790.31 L172.80,788.36 L173.37,786.41 L173.93,784.62 L174.50,783.06 L175.07,781.50 L175.64,779.94 L176.21,778.38 L176.78,776.82 L177.35,775.26 L177.91,773.70 L178.48,772.14 L179.05,770.58 L179.62,769.19 L180.19,768.04 L180.76,766.90 L181.33,765.76 L181.90,764.61 L182.46,763.47 L183.03,762.32 L183.60,761.18 L184.17,760.04 L184.74,758.89 L185.31,757.87 L185.88,757.04 L186.44,756.21 L187.01,755.38 L187.58,754.55 L188.15,753.72 L188.72,752.88 L189.29,752.05 L189.86,751.22 L190.43,750.39 L190.99,749.64 L191.56,749.02 L192.13,748.39 L192.70,747.77 L193.27,747.14 L193.84,746.52 L194.41,745.90 L194.97,745.27 L195.54,744.65 L196.11,744.02 L196.68,743.48 L198.96,741.82 L201.23,740.16 L203.50,738.49 L205.78,736.83 L208.05,735.23 L210.33,734.19 L212.60,733.15 L214.88,732.11 L217.15,731.07 L219.43,730.06 L221.70,729.36 L223.98,728.74 L226.25,728.19 L228.53,727.71 L230.80,727.28 L233.08,726.89 L235.35,726.56 L237.62,726.25 L239.90,725.99 L242.17,725.75 L244.45,725.54 L246.72,725.35 L249.00,725.19 L251.27,725.04 L253.55,724.91 L255.82,724.80 L258.10,724.70 L260.37,724.61 L262.65,724.52 L264.92,724.45 L267.20,724.39 L269.47,724.33 L271.74,724.28 L274.02,724.24 L276.29,724.20 L278.57,724.17 L280.84,724.14 L283.12,724.11 L285.39,724.08 L287.67,724.06 L289.94,724.04 L292.22,724.03 L294.49,724.01 L296.77,724.00 L299.04,723.99 L301.32,723.98 L303.59,723.97 L305.86,723.96 L308.14,723.95 L310.41,723.94 L312.69,723.94 L314.96,723.93 L317.24,723.93 L319.51,723.93 L321.79,723.92 L324.06,723.92 L326.34,723.92 L328.61,723.91 L330.89,723.91 L333.16,723.91 L335.44,723.91 L337.71,723.91 L339.98,723.90 L342.26,723.90 L344.53,723.90 L346.81,723.90 L349.08,723.90 L351.36,723.90 L353.63,723.90 L355.91,723.90 L358.18,723.90 L360.46,723.90 L362.73,723.90 L365.01,723.90 L367.28,723.90 L369.56,723.90 L371.83,723.90 L374.10,723.90 L376.38,723.90 L378.65,723.90 L380.93,723.90 L383.20,723.90 L385.48,723.90 L387.75,723.90 L389.80,723.89" stroke="#000" stroke-width="1.50" fill="none" stroke-dasharray="1.25 3.95"/>
<path d="M82.72,723.89 L82.95,725.97 L83.17,728.05 L83.40,730.13 L83.63,732.21 L83.86,734.29 L84.08,736.37 L84.31,738.45 L84.54,740.53 L84.77,742.61 L84.99,744.69 L85.22,746.77 L85.45,748.85 L85.68,750.93 L85.90,753.01 L86.13,755.09 L86.36,757.17 L86.59,759.25 L86.81,761.33 L87.04,763.41 L87.27,765.49 L87.50,767.56 L87.72,769.64 L87.95,771.72 L88.18,773.80 L88.41,775.88 L88.63,777.96 L88.86,780.04 L89.09,782.12 L89.32,784.20 L89.54,786.28 L89.77,788.36 L90.00,790.44 L90.23,792.52 L90.45,794.60 L90.68,796.68 L90.91,798.76 L91.14,800.84 L91.36,802.92 L91.59,805.00 L91.82,807.08 L92.05,809.16 L92.27,811.24 L92.50,813.32 L92.73,815.39 L92.96,817.47 L93.18,819.55 L93.41,821.63 L93.64,823.71 L93.87,825.79 L94.09,827.87 L94.32,826.71 L94.55,825.57 L94.78,824.44 L95.00,823.32 L95.23,822.21 L95.46,821.11 L95.69,820.03 L95.91,818.96 L96.14,817.90 L96.37,816.86 L96.60,815.82 L97.16,813.28 L97.73,810.81 L98.30,808.41 L98.87,806.08 L99.44,803.81 L100.01,801.60 L100.58,799.46 L101.14,797.37 L101.71,795.34 L102.28,793.37 L102.85,791.45 L103.42,789.59 L103.99,787.77 L104.56,786.01 L105.13,784.29 L105.69,782.63 L106.26,781.00 L106.83,779.43 L107.40,777.89 L107.97,776.40 L108.54,774.95 L109.11,773.54 L109.67,772.17 L110.24,770.84 L110.81,769.54 L111.38,768.28 L111.95,767.06 L112.52,765.87 L113.09,764.71 L113.66,763.58 L114.22,762.48 L114.79,761.42 L115.36,760.38 L115.93,759.37 L116.50,758.39 L117.07,757.44 L117.64,756.52 L118.20,755.62 L118.77,754.74 L119.34,753.89 L119.91,753.06 L120.48,752.25 L121.05,751.47 L121.62,750.71 L122.19,749.97 L122.75,749.25 L123.32,748.55 L123.89,747.87 L124.46,747.21 L125.03,746.56 L125.60,745.94 L126.17,745.33 L126.73,744.74 L127.30,744.16 L127.87,743.60 L128.44,743.06 L130.72,741.03 L132.99,739.21 L135.26,737.59 L137.54,736.14 L139.81,734.84 L142.09,733.68 L144.36,732.64 L146.64,731.72 L148.91,730.89 L151.19,730.15 L153.46,729.48 L155.74,728.89 L158.01,728.36 L160.29,727.89 L162.56,727.47 L164.84,727.09 L167.11,726.75 L169.38,726.45 L171.66,726.18 L173.93,725.93 L176.21,725.72 L178.48,725.52 L180.76,725.35 L183.03,725.20 L185.31,725.06 L187.58,724.94 L189.86,724.83 L192.13,724.73 L194.41,724.64 L196.68,724.56 L198.96,724.49 L201.23,724.43 L203.50,724.37 L205.78,724.32 L208.05,724.27 L210.33,724.23 L212.60,724.20 L214.88,724.17 L217.15,724.14 L219.43,724.11 L221.70,724.09 L223.98,724.07 L226.25,724.05 L228.53,724.03 L230.80,724.02 L233.08,724.01 L235.35,723.99 L237.62,723.98 L239.90,723.97 L242.17,723.97 L244.45,723.96 L246.72,723.95 L249.00,723.94 L251.27,723.94 L253.55,723.93 L255.82,723.93 L258.10,723.93 L260.37,723.92 L262.65,723.92 L264.92,723.92 L267.20,723.91 L269.47,723.91 L271.74,723.91 L274.02,723.91 L276.29,723.91 L278.57,723.91 L280.84,723.90 L283.12,723.90 L285.39,723.90 L287.67,723.90 L289.94,723.90 L292.22,723.90 L294.49,723.90 L296.77,723.90 L299.04,723.90 L301.32,723.90 L303.59,723.90 L305.86,723.90 L308.14,723.90 L310.41,723.90 L312.69,723.90 L314.96,723.90 L317.24,723.90 L319.51,723.90 L321.79,723.90 L324.06,723.90 L326.34,723.90 L328.61,723.90 L330.89,723.90 L333.16,723.89 L335.44,723.89 L337.71,723.89 L339.98,723.89 L342.26,723.89 L344.53,723.89 L346.81,723.89 L349.08,723.89 L351.36,723.89 L353.63,723.89 L355.91,723.89 L358.18,723.89 L360.46,723.89 L362.73,723.89 L365.01,723.89 L367.28,723.89 L369.56,723.89 L371.83,723.89 L374.10,723.89 L376.38,723.89 L378.65,723.89 L380.93,723.89 L383.20,723.89 L385.48,723.89 L387.75,723.89 L389.80,723.89" stroke="#000" stroke-width="1.50" fill="none" stroke-dasharray="4.16 4.06 1.25 4.16" stroke-dashoffset="7.38"/>
<path d="M48.60,723.89 L48.83,732.21 L49.05,740.53 L49.28,748.85 L49.51,757.17 L49.74,765.49 L49.96,772.97 L50.19,780.46 L50.42,787.94 L50.65,795.43 L50.87,802.92 L51.10,806.66 L51.33,810.40 L51.56,814.15 L51.78,817.89 L52.01,821.63 L52.24,823.51 L52.47,825.38 L52.69,827.25 L52.92,829.12 L53.15,830.99 L53.38,831.82 L53.60,832.66 L53.83,833.49 L54.06,834.32 L54.29,835.15 L54.51,835.43 L54.74,835.71 L54.97,835.98 L55.20,836.26 L55.42,836.54 L55.65,836.81 L55.88,837.09 L56.11,837.13 L56.33,836.94 L56.56,836.74 L56.79,836.55 L57.02,836.36 L57.24,836.16 L57.47,835.97 L57.70,835.77 L57.93,835.09 L58.15,834.40 L58.38,833.72 L58.61,833.03 L58.84,832.34 L59.06,831.66 L59.29,830.97 L59.52,830.28 L59.75,829.60 L59.97,828.91 L60.20,828.01 L60.43,827.11 L60.66,826.21 L60.88,825.31 L61.11,824.41 L61.34,823.51 L61.57,822.60 L61.79,821.70 L62.02,820.80 L62.25,819.90 L62.82,817.65 L63.39,815.39 L63.95,812.97 L64.52,810.54 L65.09,808.12 L65.66,805.69 L66.23,803.26 L66.80,800.84 L67.37,798.89 L67.93,796.94 L68.50,794.99 L69.07,793.04 L69.64,791.09 L70.21,789.14 L70.78,787.19 L71.35,785.24 L71.92,783.68 L72.48,782.12 L73.05,780.56 L73.62,779.00 L74.19,777.44 L74.76,775.88 L75.33,774.32 L75.90,772.76 L76.46,771.20 L77.03,769.64 L77.60,768.50 L78.17,767.36 L78.74,766.21 L79.31,765.07 L79.88,763.93 L80.45,762.78 L81.01,761.64 L81.58,760.49 L82.15,759.35 L82.72,758.21 L83.29,757.38 L83.86,756.54 L84.43,755.71 L84.99,754.88 L85.56,754.05 L86.13,753.22 L86.70,752.38 L87.27,751.55 L87.84,750.72 L88.41,749.89 L88.98,749.26 L89.54,748.64 L90.11,748.02 L90.68,747.39 L91.25,746.77 L91.82,746.15 L92.39,745.52 L92.96,744.90 L93.52,744.27 L94.09,743.65 L94.66,743.23 L96.94,741.57 L99.21,739.91 L101.49,738.24 L103.76,736.58 L106.04,735.07 L108.31,734.03 L110.58,732.99 L112.86,731.95 L115.13,730.91 L117.41,729.95 L119.68,729.26 L121.96,728.66 L124.23,728.12 L126.51,727.64 L128.78,727.22 L131.06,726.84 L133.33,726.51 L135.61,726.21 L137.88,725.95 L140.16,725.72 L142.43,725.51 L144.70,725.33 L146.98,725.17 L149.25,725.02 L151.53,724.89 L153.80,724.78 L156.08,724.68 L158.35,724.59 L160.63,724.51 L162.90,724.44 L165.18,724.38 L167.45,724.33 L169.73,724.28 L172.00,724.23 L174.28,724.20 L176.55,724.16 L178.82,724.13 L181.10,724.10 L183.37,724.08 L185.65,724.06 L187.92,724.04 L190.20,724.02 L192.47,724.01 L194.75,724.00 L197.02,723.98 L199.30,723.97 L201.57,723.97 L203.85,723.96 L206.12,723.95 L208.40,723.94 L210.67,723.94 L212.94,723.93 L215.22,723.93 L217.49,723.93 L219.77,723.92 L222.04,723.92 L224.32,723.92 L226.59,723.91 L228.87,723.91 L231.14,723.91 L233.42,723.91 L235.69,723.91 L237.97,723.90 L240.24,723.90 L242.52,723.90 L244.79,723.90 L247.06,723.90 L249.34,723.90 L251.61,723.90 L253.89,723.90 L256.16,723.90 L258.44,723.90 L260.71,723.90 L262.99,723.90 L265.26,723.90 L267.54,723.90 L269.81,723.90 L272.09,723.90 L274.36,723.90 L276.64,723.90 L278.91,723.90 L281.18,723.90 L283.46,723.90 L285.73,723.90 L288.01,723.89 L290.28,723.89 L292.56,723.89 L294.83,723.89 L297.11,723.89 L299.38,723.89 L301.66,723.89 L303.93,723.89 L306.21,723.89 L308.48,723.89 L310.76,723.89 L313.03,723.89 L315.30,723.89 L317.58,723.89 L319.85,723.89 L322.13,723.89 L324.40,723.89 L326.68,723.89 L328.95,723.89 L331.23,723.89 L333.50,723.89 L335.78,723.89 L338.05,723.89 L340.33,723.89 L342.60,723.89 L344.88,723.89 L347.15,723.89 L349.42,723.89 L351.70,723.89 L353.97,723.89 L356.25,723.89 L358.52,723.89 L360.80,723.89 L363.07,723.89 L365.35,723.89 L367.62,723.89 L369.90,723.89 L372.17,723.89 L374.45,723.89 L376.72,723.89 L379.00,723.89 L381.27,723.89 L383.54,723.89 L385.82,723.89 L388.09,723.89 L389.80,723.89" stroke="#000" stroke-width="1.50" fill="none" stroke-dasharray="4.06 4.26"/>
<path d="M48.60,723.89 L389.80,723.89" stroke="#000" stroke-width="1.60" fill="none"/>
<path d="M95.00,869.80 L113.50,869.80" stroke="#000" stroke-width="1.50" fill="none"/>
<text x="123.86" y="875.70" font-size="16.55" font-weight="normal" text-anchor="start" textLength="90.77" lengthAdjust="spacingAndGlyphs">Steady state</text>
<path d="M95.00,890.30 L113.50,890.30" stroke="#000" stroke-width="1.50" fill="none" stroke-dasharray="4.19 3.77"/>
<text x="124.57" y="896.00" font-size="16.55" font-weight="normal" text-anchor="start" textLength="70.08" lengthAdjust="spacingAndGlyphs">Acute d 0</text>
<path d="M95.00,910.70 L113.50,910.70" stroke="#000" stroke-width="1.50" fill="none" stroke-dasharray="4.19 3.35 1.57 3.56"/>
<text x="124.57" y="916.60" font-size="16.55" font-weight="normal" text-anchor="start" textLength="69.45" lengthAdjust="spacingAndGlyphs">Acute d 3</text>
<path d="M240.90,869.30 L257.20,869.30" stroke="#000" stroke-width="1.50" fill="none" stroke-dasharray="1.36 3.56"/>
<text x="270.17" y="874.90" font-size="16.55" font-weight="normal" text-anchor="start" textLength="70.42" lengthAdjust="spacingAndGlyphs">Acute d 9</text>
<path d="M240.90,888.50 L257.20,888.50" stroke="#000" stroke-width="1.50" fill="none" stroke-dasharray="4.19 3.46 1.47 3.77 1.47 4.19"/>
<text x="269.35" y="893.80" font-size="16.55" font-weight="normal" text-anchor="start" textLength="85.50" lengthAdjust="spacingAndGlyphs">Chronic d 0</text>
</g>
<g>
<text x="420.20" y="16.75" font-size="19.50" font-weight="bold" text-anchor="start">D</text>
<path d="M444.85,43.05 L444.85,265.25" stroke="#000" stroke-width="1.5" fill="none" stroke-linecap="square"/>
<path d="M444.85,265.25 L777.50,265.25" stroke="#000" stroke-width="1.5" fill="none" stroke-linecap="square"/>
<path d="M440.25,265.25 L444.85,265.25" stroke="#000" stroke-width="1.4"/>
<text x="431.76" y="270.00" font-size="12.60" font-weight="bold" text-anchor="start">0</text>
<path d="M440.25,220.81 L444.85,220.81" stroke="#000" stroke-width="1.4"/>
<path d="M768,0L768,1430L545,1430Q500,1310 380,1215Q250,1120 124,1080L124,835Q335,905 487,1040L487,0Z" transform="translate(432.52,225.00) scale(0.00615,-0.00615)"/>
<path d="M440.25,176.37 L444.85,176.37" stroke="#000" stroke-width="1.4"/>
<text x="431.75" y="181.00" font-size="12.60" font-weight="bold" text-anchor="start">2</text>
<path d="M440.25,131.93 L444.85,131.93" stroke="#000" stroke-width="1.4"/>
<text x="431.70" y="136.00" font-size="12.60" font-weight="bold" text-anchor="start">3</text>
<path d="M440.25,87.49 L444.85,87.49" stroke="#000" stroke-width="1.4"/>
<text x="431.31" y="92.00" font-size="12.60" font-weight="bold" text-anchor="start">4</text>
<path d="M440.25,43.05 L444.85,43.05" stroke="#000" stroke-width="1.4"/>
<text x="431.59" y="48.00" font-size="12.60" font-weight="bold" text-anchor="start">5</text>
<path d="M444.85,265.25 L444.85,269.85" stroke="#000" stroke-width="1.4"/>
<text x="441.36" y="284.00" font-size="12.60" font-weight="bold" text-anchor="start">0</text>
<path d="M500.29,265.25 L500.29,269.85" stroke="#000" stroke-width="1.4"/>
<text x="496.77" y="284.00" font-size="12.60" font-weight="bold" text-anchor="start">5</text>
<path d="M555.73,265.25 L555.73,269.85" stroke="#000" stroke-width="1.4"/>
<path d="M768,0L768,1430L545,1430Q500,1310 380,1215Q250,1120 124,1080L124,835Q335,905 487,1040L487,0Z" transform="translate(548.60,284.00) scale(0.00615,-0.00615)"/><text x="555.61" y="284.00" font-size="12.60" font-weight="bold" text-anchor="start">0</text>
<path d="M611.17,265.25 L611.17,269.85" stroke="#000" stroke-width="1.4"/>
<path d="M768,0L768,1430L545,1430Q500,1310 380,1215Q250,1120 124,1080L124,835Q335,905 487,1040L487,0Z" transform="translate(603.96,284.00) scale(0.00615,-0.00615)"/><text x="610.97" y="284.00" font-size="12.60" font-weight="bold" text-anchor="start">5</text>
<path d="M666.62,265.25 L666.62,269.85" stroke="#000" stroke-width="1.4"/>
<text x="659.65" y="284.00" font-size="12.60" font-weight="bold" text-anchor="start">20</text>
<path d="M722.06,265.25 L722.06,269.85" stroke="#000" stroke-width="1.4"/>
<text x="715.01" y="284.00" font-size="12.60" font-weight="bold" text-anchor="start">25</text>
<path d="M777.50,265.25 L777.50,269.85" stroke="#000" stroke-width="1.4"/>
<text x="770.61" y="284.00" font-size="12.60" font-weight="bold" text-anchor="start">30</text>
<text transform="translate(421.50,262.00) rotate(-90)" x="-0.88" y="0" font-size="20.69" textLength="216.56" lengthAdjust="spacingAndGlyphs">apo-RBP input (µmol/d)</text>
<text x="576.98" y="308.00" font-size="18.40" font-weight="normal" text-anchor="start" textLength="69.17" lengthAdjust="spacingAndGlyphs">Time (d)</text>
<path d="M444.85,164.15 L777.50,164.15" stroke="#000" stroke-width="1.50" fill="none" stroke-dasharray="4.26 3.75 1.12 3.75 1.12 4.26"/>
<path d="M544.64,63.05 L544.87,65.07 L545.09,67.09 L545.31,69.11 L545.53,71.14 L545.75,73.16 L545.98,75.18 L546.20,77.20 L546.42,79.22 L546.64,81.25 L546.86,83.27 L547.08,85.29 L547.31,87.31 L547.53,89.33 L547.75,91.36 L547.97,93.38 L548.19,95.40 L548.42,97.42 L548.64,99.44 L548.86,101.47 L549.08,103.49 L549.30,105.51 L549.52,107.53 L549.75,109.55 L549.97,111.58 L550.19,113.60 L550.41,115.62 L550.63,117.64 L550.85,119.66 L551.08,121.69 L551.30,123.71 L551.52,125.73 L551.74,127.75 L551.96,129.77 L552.19,131.80 L552.41,133.82 L552.63,135.84 L552.85,137.86 L553.07,139.88 L553.29,141.91 L553.52,143.93 L553.74,145.95 L553.96,147.97 L554.18,149.99 L554.40,152.02 L554.62,154.04 L554.85,156.06 L555.07,158.08 L555.29,160.10 L555.51,162.13 L555.73,164.15 L555.96,163.02 L556.18,161.91 L556.40,160.81 L556.62,159.72 L556.84,158.64 L557.06,157.58 L557.29,156.53 L557.51,155.48 L557.73,154.45 L557.95,153.44 L558.17,152.43 L558.73,149.96 L559.28,147.56 L559.84,145.23 L560.39,142.96 L560.94,140.75 L561.50,138.61 L562.05,136.52 L562.61,134.49 L563.16,132.52 L563.72,130.60 L564.27,128.74 L564.83,126.92 L565.38,125.16 L565.93,123.44 L566.49,121.78 L567.04,120.15 L567.60,118.58 L568.15,117.04 L568.71,115.55 L569.26,114.10 L569.82,112.69 L570.37,111.32 L570.92,109.99 L571.48,108.69 L572.03,107.43 L572.59,106.21 L573.14,105.02 L573.70,103.86 L574.25,102.73 L574.81,101.64 L575.36,100.57 L575.91,99.53 L576.47,98.53 L577.02,97.55 L577.58,96.59 L578.13,95.67 L578.69,94.77 L579.24,93.89 L579.80,93.04 L580.35,92.21 L580.90,91.41 L581.46,90.62 L582.01,89.86 L582.57,89.12 L583.12,88.40 L583.68,87.70 L584.23,87.02 L584.78,86.36 L585.34,85.72 L585.89,85.09 L586.45,84.48 L587.00,83.89 L587.56,83.31 L588.11,82.75 L588.67,82.21 L589.22,81.68 L591.44,79.71 L593.66,77.94 L595.87,76.36 L598.09,74.95 L600.31,73.69 L602.53,72.56 L604.74,71.56 L606.96,70.65 L609.18,69.85 L611.40,69.13 L613.61,68.48 L615.83,67.91 L618.05,67.39 L620.27,66.93 L622.49,66.52 L624.70,66.15 L626.92,65.82 L629.14,65.53 L631.36,65.27 L633.57,65.03 L635.79,64.82 L638.01,64.63 L640.23,64.47 L642.44,64.32 L644.66,64.18 L646.88,64.06 L649.10,63.95 L651.31,63.86 L653.53,63.77 L655.75,63.70 L657.97,63.63 L660.19,63.57 L662.40,63.51 L664.62,63.46 L666.84,63.42 L669.06,63.38 L671.27,63.34 L673.49,63.31 L675.71,63.28 L677.93,63.26 L680.14,63.24 L682.36,63.22 L684.58,63.20 L686.80,63.18 L689.02,63.17 L691.23,63.16 L693.45,63.14 L695.67,63.13 L697.89,63.13 L700.10,63.12 L702.32,63.11 L704.54,63.10 L706.76,63.10 L708.97,63.09 L711.19,63.09 L713.41,63.08 L715.63,63.08 L717.84,63.08 L720.06,63.07 L722.28,63.07 L724.50,63.07 L726.72,63.07 L728.93,63.06 L731.15,63.06 L733.37,63.06 L735.59,63.06 L737.80,63.06 L740.02,63.06 L742.24,63.06 L744.46,63.06 L746.67,63.05 L748.89,63.05 L751.11,63.05 L753.33,63.05 L755.55,63.05 L757.76,63.05 L759.98,63.05 L762.20,63.05 L764.42,63.05 L766.63,63.05 L768.85,63.05 L771.07,63.05 L773.29,63.05 L775.50,63.05 L777.50,63.05" stroke="#000" stroke-width="1.50" fill="none" stroke-dasharray="1.22 3.85"/>
<path d="M478.12,63.05 L478.34,65.07 L478.56,67.09 L478.78,69.11 L479.00,71.14 L479.22,73.16 L479.45,75.18 L479.67,77.20 L479.89,79.22 L480.11,81.25 L480.33,83.27 L480.55,85.29 L480.78,87.31 L481.00,89.33 L481.22,91.36 L481.44,93.38 L481.66,95.40 L481.89,97.42 L482.11,99.44 L482.33,101.47 L482.55,103.49 L482.77,105.51 L482.99,107.53 L483.22,109.55 L483.44,111.58 L483.66,113.60 L483.88,115.62 L484.10,117.64 L484.32,119.66 L484.55,121.69 L484.77,123.71 L484.99,125.73 L485.21,127.75 L485.43,129.77 L485.66,131.80 L485.88,133.82 L486.10,135.84 L486.32,137.86 L486.54,139.88 L486.76,141.91 L486.99,143.93 L487.21,145.95 L487.43,147.97 L487.65,149.99 L487.87,152.02 L488.09,154.04 L488.32,156.06 L488.54,158.08 L488.76,160.10 L488.98,162.13 L489.20,164.15 L489.43,163.02 L489.65,161.91 L489.87,160.81 L490.09,159.72 L490.31,158.64 L490.53,157.58 L490.76,156.53 L490.98,155.48 L491.20,154.45 L491.42,153.44 L491.64,152.43 L492.20,149.96 L492.75,147.56 L493.31,145.23 L493.86,142.96 L494.41,140.75 L494.97,138.61 L495.52,136.52 L496.08,134.49 L496.63,132.52 L497.19,130.60 L497.74,128.74 L498.30,126.92 L498.85,125.16 L499.40,123.44 L499.96,121.78 L500.51,120.15 L501.07,118.58 L501.62,117.04 L502.18,115.55 L502.73,114.10 L503.29,112.69 L503.84,111.32 L504.39,109.99 L504.95,108.69 L505.50,107.43 L506.06,106.21 L506.61,105.02 L507.17,103.86 L507.72,102.73 L508.28,101.64 L508.83,100.57 L509.38,99.53 L509.94,98.53 L510.49,97.55 L511.05,96.59 L511.60,95.67 L512.16,94.77 L512.71,93.89 L513.27,93.04 L513.82,92.21 L514.37,91.41 L514.93,90.62 L515.48,89.86 L516.04,89.12 L516.59,88.40 L517.15,87.70 L517.70,87.02 L518.25,86.36 L518.81,85.72 L519.36,85.09 L519.92,84.48 L520.47,83.89 L521.03,83.31 L521.58,82.75 L522.14,82.21 L522.69,81.68 L524.91,79.71 L527.13,77.94 L529.34,76.36 L531.56,74.95 L533.78,73.69 L536.00,72.56 L538.21,71.56 L540.43,70.65 L542.65,69.85 L544.87,69.13 L547.08,68.48 L549.30,67.91 L551.52,67.39 L553.74,66.93 L555.96,66.52 L558.17,66.15 L560.39,65.82 L562.61,65.53 L564.83,65.27 L567.04,65.03 L569.26,64.82 L571.48,64.63 L573.70,64.47 L575.91,64.32 L578.13,64.18 L580.35,64.06 L582.57,63.95 L584.78,63.86 L587.00,63.77 L589.22,63.70 L591.44,63.63 L593.66,63.57 L595.87,63.51 L598.09,63.46 L600.31,63.42 L602.53,63.38 L604.74,63.34 L606.96,63.31 L609.18,63.28 L611.40,63.26 L613.61,63.24 L615.83,63.22 L618.05,63.20 L620.27,63.18 L622.49,63.17 L624.70,63.16 L626.92,63.14 L629.14,63.13 L631.36,63.13 L633.57,63.12 L635.79,63.11 L638.01,63.10 L640.23,63.10 L642.44,63.09 L644.66,63.09 L646.88,63.08 L649.10,63.08 L651.31,63.08 L653.53,63.07 L655.75,63.07 L657.97,63.07 L660.19,63.07 L662.40,63.06 L664.62,63.06 L666.84,63.06 L669.06,63.06 L671.27,63.06 L673.49,63.06 L675.71,63.06 L677.93,63.06 L680.14,63.05 L682.36,63.05 L684.58,63.05 L686.80,63.05 L689.02,63.05 L691.23,63.05 L693.45,63.05 L695.67,63.05 L697.89,63.05 L700.10,63.05 L702.32,63.05 L704.54,63.05 L706.76,63.05 L708.97,63.05 L711.19,63.05 L713.41,63.05 L715.63,63.05 L717.84,63.05 L720.06,63.05 L722.28,63.05 L724.50,63.05 L726.72,63.05 L728.93,63.05 L731.15,63.05 L733.37,63.05 L735.59,63.05 L737.80,63.05 L740.02,63.05 L742.24,63.05 L744.46,63.05 L746.67,63.05 L748.89,63.05 L751.11,63.05 L753.33,63.05 L755.55,63.05 L757.76,63.05 L759.98,63.05 L762.20,63.05 L764.42,63.05 L766.63,63.05 L768.85,63.05 L771.07,63.05 L773.29,63.05 L775.50,63.05 L777.50,63.05" stroke="#000" stroke-width="1.50" fill="none" stroke-dasharray="4.06 3.95 1.22 4.06" stroke-dashoffset="7.20"/>
<path d="M444.85,63.05 L445.07,65.07 L445.29,67.09 L445.52,69.11 L445.74,71.14 L445.96,73.16 L446.18,75.18 L446.40,77.20 L446.62,79.22 L446.85,81.25 L447.07,83.27 L447.29,85.29 L447.51,87.31 L447.73,89.33 L447.95,91.36 L448.18,93.38 L448.40,95.40 L448.62,97.42 L448.84,99.44 L449.06,101.47 L449.29,103.49 L449.51,105.51 L449.73,107.53 L449.95,109.55 L450.17,111.58 L450.39,113.60 L450.62,115.62 L450.84,117.64 L451.06,119.66 L451.28,121.69 L451.50,123.71 L451.72,125.73 L451.95,127.75 L452.17,129.77 L452.39,131.80 L452.61,133.82 L452.83,135.84 L453.06,137.86 L453.28,139.88 L453.50,141.91 L453.72,143.93 L453.94,145.95 L454.16,147.97 L454.39,149.99 L454.61,152.02 L454.83,154.04 L455.05,156.06 L455.27,158.08 L455.49,160.10 L455.72,162.13 L455.94,164.15 L456.16,163.02 L456.38,161.91 L456.60,160.81 L456.83,159.72 L457.05,158.64 L457.27,157.58 L457.49,156.53 L457.71,155.48 L457.93,154.45 L458.16,153.44 L458.71,150.94 L459.26,148.51 L459.82,146.15 L460.37,143.86 L460.93,141.63 L461.48,139.46 L462.04,137.35 L462.59,135.30 L463.15,133.30 L463.70,131.36 L464.25,129.48 L464.81,127.64 L465.36,125.86 L465.92,124.12 L466.47,122.44 L467.03,120.80 L467.58,119.20 L468.14,117.65 L468.69,116.14 L469.24,114.68 L469.80,113.25 L470.35,111.87 L470.91,110.52 L471.46,109.21 L472.02,107.93 L472.57,106.69 L473.13,105.49 L473.68,104.32 L474.23,103.18 L474.79,102.07 L475.34,100.99 L475.90,99.94 L476.45,98.93 L477.01,97.94 L477.56,96.97 L478.12,96.04 L478.67,95.12 L479.22,94.24 L479.78,93.38 L480.33,92.54 L480.89,91.73 L481.44,90.93 L482.00,90.16 L482.55,89.42 L483.10,88.69 L483.66,87.98 L484.21,87.29 L484.77,86.62 L485.32,85.97 L485.88,85.34 L486.43,84.72 L486.99,84.12 L487.54,83.54 L488.09,82.98 L488.65,82.43 L489.20,81.89 L489.76,81.37 L491.98,79.43 L494.19,77.69 L496.41,76.14 L498.63,74.75 L500.85,73.51 L503.06,72.40 L505.28,71.41 L507.50,70.53 L509.72,69.73 L511.93,69.03 L514.15,68.39 L516.37,67.83 L518.59,67.32 L520.81,66.87 L523.02,66.46 L525.24,66.10 L527.46,65.78 L529.68,65.49 L531.89,65.23 L534.11,65.00 L536.33,64.79 L538.55,64.61 L540.76,64.44 L542.98,64.29 L545.20,64.16 L547.42,64.04 L549.63,63.94 L551.85,63.84 L554.07,63.76 L556.29,63.68 L558.51,63.62 L560.72,63.56 L562.94,63.50 L565.16,63.45 L567.38,63.41 L569.59,63.37 L571.81,63.34 L574.03,63.31 L576.25,63.28 L578.46,63.26 L580.68,63.23 L582.90,63.21 L585.12,63.20 L587.34,63.18 L589.55,63.17 L591.77,63.15 L593.99,63.14 L596.21,63.13 L598.42,63.12 L600.64,63.12 L602.86,63.11 L605.08,63.10 L607.29,63.10 L609.51,63.09 L611.73,63.09 L613.95,63.08 L616.16,63.08 L618.38,63.08 L620.60,63.07 L622.82,63.07 L625.04,63.07 L627.25,63.07 L629.47,63.06 L631.69,63.06 L633.91,63.06 L636.12,63.06 L638.34,63.06 L640.56,63.06 L642.78,63.06 L644.99,63.06 L647.21,63.05 L649.43,63.05 L651.65,63.05 L653.87,63.05 L656.08,63.05 L658.30,63.05 L660.52,63.05 L662.74,63.05 L664.95,63.05 L667.17,63.05 L669.39,63.05 L671.61,63.05 L673.82,63.05 L676.04,63.05 L678.26,63.05 L680.48,63.05 L682.69,63.05 L684.91,63.05 L687.13,63.05 L689.35,63.05 L691.57,63.05 L693.78,63.05 L696.00,63.05 L698.22,63.05 L700.44,63.05 L702.65,63.05 L704.87,63.05 L707.09,63.05 L709.31,63.05 L711.52,63.05 L713.74,63.05 L715.96,63.05 L718.18,63.05 L720.40,63.05 L722.61,63.05 L724.83,63.05 L727.05,63.05 L729.27,63.05 L731.48,63.05 L733.70,63.05 L735.92,63.05 L738.14,63.05 L740.35,63.05 L742.57,63.05 L744.79,63.05 L747.01,63.05 L749.22,63.05 L751.44,63.05 L753.66,63.05 L755.88,63.05 L758.10,63.05 L760.31,63.05 L762.53,63.05 L764.75,63.05 L766.97,63.05 L769.18,63.05 L771.40,63.05 L773.62,63.05 L775.84,63.05 L777.50,63.05" stroke="#000" stroke-width="1.50" fill="none" stroke-dasharray="3.95 4.16"/>
<path d="M444.85,63.05 L777.50,63.05" stroke="#000" stroke-width="1.60" fill="none"/>
<path d="M492.30,195.40 L510.00,195.40" stroke="#000" stroke-width="1.50" fill="none"/>
<text x="520.18" y="201.30" font-size="16.14" font-weight="normal" text-anchor="start" textLength="88.73" lengthAdjust="spacingAndGlyphs">Steady state</text>
<path d="M492.30,216.90 L510.00,216.90" stroke="#000" stroke-width="1.50" fill="none" stroke-dasharray="4.08 3.68"/>
<text x="520.87" y="222.50" font-size="16.14" font-weight="normal" text-anchor="start" textLength="68.36" lengthAdjust="spacingAndGlyphs">Acute d 0</text>
<path d="M492.30,237.60 L510.00,237.60" stroke="#000" stroke-width="1.50" fill="none" stroke-dasharray="1.33 3.47"/>
<text x="520.87" y="243.20" font-size="16.14" font-weight="normal" text-anchor="start" textLength="68.44" lengthAdjust="spacingAndGlyphs">Acute d 3</text>
<path d="M642.80,196.30 L660.00,196.30" stroke="#000" stroke-width="1.50" fill="none" stroke-dasharray="4.08 3.27 1.53 3.47"/>
<text x="671.47" y="202.20" font-size="16.14" font-weight="normal" text-anchor="start" textLength="68.09" lengthAdjust="spacingAndGlyphs">Acute d 9</text>
<path d="M642.80,217.40 L660.00,217.40" stroke="#000" stroke-width="1.50" fill="none" stroke-dasharray="4.08 3.37 1.43 3.68 1.43 4.08"/>
<text x="670.68" y="223.30" font-size="16.14" font-weight="normal" text-anchor="start" textLength="82.96" lengthAdjust="spacingAndGlyphs">Chronic d 0</text>
</g>
<g>
<text x="420.45" y="343.75" font-size="19.50" font-weight="bold" text-anchor="start">E</text>
<path d="M453.85,376.55 L453.85,598.35" stroke="#000" stroke-width="1.5" fill="none" stroke-linecap="square"/>
<path d="M453.85,598.35 L786.55,598.35" stroke="#000" stroke-width="1.5" fill="none" stroke-linecap="square"/>
<path d="M449.25,598.35 L453.85,598.35" stroke="#000" stroke-width="1.4"/>
<text x="440.76" y="603.00" font-size="12.60" font-weight="bold" text-anchor="start">0</text>
<path d="M449.25,524.42 L453.85,524.42" stroke="#000" stroke-width="1.4"/>
<text x="440.59" y="529.00" font-size="12.60" font-weight="bold" text-anchor="start">5</text>
<path d="M449.25,450.48 L453.85,450.48" stroke="#000" stroke-width="1.4"/>
<path d="M768,0L768,1430L545,1430Q500,1310 380,1215Q250,1120 124,1080L124,835Q335,905 487,1040L487,0Z" transform="translate(433.75,455.00) scale(0.00615,-0.00615)"/><text x="440.76" y="455.00" font-size="12.60" font-weight="bold" text-anchor="start">0</text>
<path d="M449.25,376.55 L453.85,376.55" stroke="#000" stroke-width="1.4"/>
<path d="M768,0L768,1430L545,1430Q500,1310 380,1215Q250,1120 124,1080L124,835Q335,905 487,1040L487,0Z" transform="translate(433.59,381.00) scale(0.00615,-0.00615)"/><text x="440.59" y="381.00" font-size="12.60" font-weight="bold" text-anchor="start">5</text>
<path d="M453.85,598.35 L453.85,602.95" stroke="#000" stroke-width="1.4"/>
<text x="450.36" y="617.00" font-size="12.60" font-weight="bold" text-anchor="start">0</text>
<path d="M509.30,598.35 L509.30,602.95" stroke="#000" stroke-width="1.4"/>
<text x="505.78" y="617.00" font-size="12.60" font-weight="bold" text-anchor="start">5</text>
<path d="M564.75,598.35 L564.75,602.95" stroke="#000" stroke-width="1.4"/>
<path d="M768,0L768,1430L545,1430Q500,1310 380,1215Q250,1120 124,1080L124,835Q335,905 487,1040L487,0Z" transform="translate(557.62,617.00) scale(0.00615,-0.00615)"/><text x="564.63" y="617.00" font-size="12.60" font-weight="bold" text-anchor="start">0</text>
<path d="M620.20,598.35 L620.20,602.95" stroke="#000" stroke-width="1.4"/>
<path d="M768,0L768,1430L545,1430Q500,1310 380,1215Q250,1120 124,1080L124,835Q335,905 487,1040L487,0Z" transform="translate(612.99,617.00) scale(0.00615,-0.00615)"/><text x="619.99" y="617.00" font-size="12.60" font-weight="bold" text-anchor="start">5</text>
<path d="M675.65,598.35 L675.65,602.95" stroke="#000" stroke-width="1.4"/>
<text x="668.68" y="617.00" font-size="12.60" font-weight="bold" text-anchor="start">20</text>
<path d="M731.10,598.35 L731.10,602.95" stroke="#000" stroke-width="1.4"/>
<text x="724.05" y="617.00" font-size="12.60" font-weight="bold" text-anchor="start">25</text>
<path d="M786.55,598.35 L786.55,602.95" stroke="#000" stroke-width="1.4"/>
<text x="779.66" y="617.00" font-size="12.60" font-weight="bold" text-anchor="start">30</text>
<text transform="translate(423.80,594.80) rotate(-90)" x="-0.88" y="0" font-size="20.72" textLength="216.97" lengthAdjust="spacingAndGlyphs">apo-RBP input (µmol/d)</text>
<text x="586.18" y="641.00" font-size="18.60" font-weight="normal" text-anchor="start" textLength="68.86" lengthAdjust="spacingAndGlyphs">Time (d)</text>
<path d="M453.85,521.46 L786.55,521.46" stroke="#000" stroke-width="1.50" fill="none" stroke-dasharray="4.26 3.75 1.12 3.75 1.12 4.26"/>
<path d="M553.66,444.57 L553.88,446.11 L554.10,447.64 L554.33,449.18 L554.55,450.72 L554.77,452.26 L554.99,453.80 L555.21,455.33 L555.43,456.87 L555.66,458.41 L555.88,459.95 L556.10,461.48 L556.32,463.02 L556.54,464.56 L556.77,466.10 L556.99,467.64 L557.21,469.17 L557.43,470.71 L557.65,472.25 L557.87,473.79 L558.10,475.32 L558.32,476.86 L558.54,478.40 L558.76,479.94 L558.98,481.48 L559.20,483.01 L559.43,484.55 L559.65,486.09 L559.87,487.63 L560.09,489.17 L560.31,490.70 L560.54,492.24 L560.76,493.78 L560.98,495.32 L561.20,496.85 L561.42,498.39 L561.64,499.93 L561.87,501.47 L562.09,503.01 L562.31,504.54 L562.53,506.08 L562.75,507.62 L562.98,509.16 L563.20,510.69 L563.42,512.23 L563.64,513.77 L563.86,515.31 L564.08,516.85 L564.31,518.38 L564.53,519.92 L564.75,521.46 L564.97,520.60 L565.19,519.76 L565.42,518.92 L565.64,518.09 L565.86,517.27 L566.08,516.46 L566.30,515.66 L566.52,514.87 L566.75,514.09 L566.97,513.31 L567.19,512.55 L567.74,510.67 L568.30,508.84 L568.85,507.07 L569.41,505.34 L569.96,503.67 L570.52,502.03 L571.07,500.45 L571.63,498.90 L572.18,497.40 L572.73,495.95 L573.29,494.53 L573.84,493.15 L574.40,491.81 L574.95,490.50 L575.51,489.23 L576.06,488.00 L576.62,486.80 L577.17,485.63 L577.73,484.50 L578.28,483.40 L578.83,482.33 L579.39,481.28 L579.94,480.27 L580.50,479.28 L581.05,478.33 L581.61,477.39 L582.16,476.49 L582.72,475.61 L583.27,474.75 L583.82,473.92 L584.38,473.11 L584.93,472.32 L585.49,471.55 L586.04,470.81 L586.60,470.08 L587.15,469.38 L587.71,468.69 L588.26,468.03 L588.82,467.38 L589.37,466.75 L589.92,466.14 L590.48,465.54 L591.03,464.96 L591.59,464.40 L592.14,463.85 L592.70,463.32 L593.25,462.80 L593.81,462.30 L594.36,461.81 L594.91,461.33 L595.47,460.87 L596.02,460.42 L596.58,459.98 L597.13,459.56 L597.69,459.14 L598.24,458.74 L600.46,457.24 L602.68,455.90 L604.90,454.70 L607.11,453.62 L609.33,452.66 L611.55,451.81 L613.77,451.04 L615.99,450.35 L618.20,449.74 L620.42,449.19 L622.64,448.70 L624.86,448.26 L627.08,447.87 L629.29,447.52 L631.51,447.21 L633.73,446.93 L635.95,446.68 L638.17,446.46 L640.38,446.26 L642.60,446.08 L644.82,445.92 L647.04,445.77 L649.26,445.65 L651.47,445.53 L653.69,445.43 L655.91,445.34 L658.13,445.26 L660.35,445.18 L662.56,445.12 L664.78,445.06 L667.00,445.01 L669.22,444.96 L671.44,444.92 L673.65,444.88 L675.87,444.85 L678.09,444.82 L680.31,444.79 L682.53,444.77 L684.74,444.75 L686.96,444.73 L689.18,444.71 L691.40,444.70 L693.62,444.68 L695.83,444.67 L698.05,444.66 L700.27,444.65 L702.49,444.64 L704.71,444.63 L706.92,444.63 L709.14,444.62 L711.36,444.62 L713.58,444.61 L715.80,444.61 L718.01,444.60 L720.23,444.60 L722.45,444.60 L724.67,444.59 L726.89,444.59 L729.10,444.59 L731.32,444.59 L733.54,444.58 L735.76,444.58 L737.98,444.58 L740.19,444.58 L742.41,444.58 L744.63,444.58 L746.85,444.58 L749.07,444.58 L751.28,444.57 L753.50,444.57 L755.72,444.57 L757.94,444.57 L760.16,444.57 L762.37,444.57 L764.59,444.57 L766.81,444.57 L769.03,444.57 L771.25,444.57 L773.46,444.57 L775.68,444.57 L777.90,444.57 L780.12,444.57 L782.34,444.57 L784.55,444.57 L786.55,444.57" stroke="#000" stroke-width="1.50" fill="none" stroke-dasharray="1.22 3.85"/>
<path d="M487.12,444.57 L487.34,446.11 L487.56,447.64 L487.79,449.18 L488.01,450.72 L488.23,452.26 L488.45,453.80 L488.67,455.33 L488.89,456.87 L489.12,458.41 L489.34,459.95 L489.56,461.48 L489.78,463.02 L490.00,464.56 L490.23,466.10 L490.45,467.64 L490.67,469.17 L490.89,470.71 L491.11,472.25 L491.33,473.79 L491.56,475.32 L491.78,476.86 L492.00,478.40 L492.22,479.94 L492.44,481.48 L492.67,483.01 L492.89,484.55 L493.11,486.09 L493.33,487.63 L493.55,489.17 L493.77,490.70 L494.00,492.24 L494.22,493.78 L494.44,495.32 L494.66,496.85 L494.88,498.39 L495.10,499.93 L495.33,501.47 L495.55,503.01 L495.77,504.54 L495.99,506.08 L496.21,507.62 L496.44,509.16 L496.66,510.69 L496.88,512.23 L497.10,513.77 L497.32,515.31 L497.54,516.85 L497.77,518.38 L497.99,519.92 L498.21,521.46 L498.43,520.60 L498.65,519.76 L498.88,518.92 L499.10,518.09 L499.32,517.27 L499.54,516.46 L499.76,515.66 L499.98,514.87 L500.21,514.09 L500.43,513.31 L500.65,512.55 L501.20,510.67 L501.76,508.84 L502.31,507.07 L502.87,505.34 L503.42,503.67 L503.98,502.03 L504.53,500.45 L505.09,498.90 L505.64,497.40 L506.19,495.95 L506.75,494.53 L507.30,493.15 L507.86,491.81 L508.41,490.50 L508.97,489.23 L509.52,488.00 L510.08,486.80 L510.63,485.63 L511.19,484.50 L511.74,483.40 L512.29,482.33 L512.85,481.28 L513.40,480.27 L513.96,479.28 L514.51,478.33 L515.07,477.39 L515.62,476.49 L516.18,475.61 L516.73,474.75 L517.28,473.92 L517.84,473.11 L518.39,472.32 L518.95,471.55 L519.50,470.81 L520.06,470.08 L520.61,469.38 L521.17,468.69 L521.72,468.03 L522.28,467.38 L522.83,466.75 L523.38,466.14 L523.94,465.54 L524.49,464.96 L525.05,464.40 L525.60,463.85 L526.16,463.32 L526.71,462.80 L527.27,462.30 L527.82,461.81 L528.37,461.33 L528.93,460.87 L529.48,460.42 L530.04,459.98 L530.59,459.56 L531.15,459.14 L531.70,458.74 L533.92,457.24 L536.14,455.90 L538.36,454.70 L540.57,453.62 L542.79,452.66 L545.01,451.81 L547.23,451.04 L549.45,450.35 L551.66,449.74 L553.88,449.19 L556.10,448.70 L558.32,448.26 L560.54,447.87 L562.75,447.52 L564.97,447.21 L567.19,446.93 L569.41,446.68 L571.63,446.46 L573.84,446.26 L576.06,446.08 L578.28,445.92 L580.50,445.77 L582.72,445.65 L584.93,445.53 L587.15,445.43 L589.37,445.34 L591.59,445.26 L593.81,445.18 L596.02,445.12 L598.24,445.06 L600.46,445.01 L602.68,444.96 L604.90,444.92 L607.11,444.88 L609.33,444.85 L611.55,444.82 L613.77,444.79 L615.99,444.77 L618.20,444.75 L620.42,444.73 L622.64,444.71 L624.86,444.70 L627.08,444.68 L629.29,444.67 L631.51,444.66 L633.73,444.65 L635.95,444.64 L638.17,444.63 L640.38,444.63 L642.60,444.62 L644.82,444.62 L647.04,444.61 L649.26,444.61 L651.47,444.60 L653.69,444.60 L655.91,444.60 L658.13,444.59 L660.35,444.59 L662.56,444.59 L664.78,444.59 L667.00,444.58 L669.22,444.58 L671.44,444.58 L673.65,444.58 L675.87,444.58 L678.09,444.58 L680.31,444.58 L682.53,444.58 L684.74,444.57 L686.96,444.57 L689.18,444.57 L691.40,444.57 L693.62,444.57 L695.83,444.57 L698.05,444.57 L700.27,444.57 L702.49,444.57 L704.71,444.57 L706.92,444.57 L709.14,444.57 L711.36,444.57 L713.58,444.57 L715.80,444.57 L718.01,444.57 L720.23,444.57 L722.45,444.57 L724.67,444.57 L726.89,444.57 L729.10,444.57 L731.32,444.57 L733.54,444.57 L735.76,444.57 L737.98,444.57 L740.19,444.57 L742.41,444.57 L744.63,444.57 L746.85,444.57 L749.07,444.57 L751.28,444.57 L753.50,444.57 L755.72,444.57 L757.94,444.57 L760.16,444.57 L762.37,444.57 L764.59,444.57 L766.81,444.57 L769.03,444.57 L771.25,444.57 L773.46,444.57 L775.68,444.57 L777.90,444.57 L780.12,444.57 L782.34,444.57 L784.55,444.57 L786.55,444.57" stroke="#000" stroke-width="1.50" fill="none" stroke-dasharray="4.06 3.96 1.22 4.06" stroke-dashoffset="7.20"/>
<path d="M453.85,444.57 L454.07,446.11 L454.29,447.64 L454.52,449.18 L454.74,450.72 L454.96,452.26 L455.18,453.80 L455.40,455.33 L455.62,456.87 L455.85,458.41 L456.07,459.95 L456.29,461.48 L456.51,463.02 L456.73,464.56 L456.96,466.10 L457.18,467.64 L457.40,469.17 L457.62,470.71 L457.84,472.25 L458.06,473.79 L458.29,475.32 L458.51,476.86 L458.73,478.40 L458.95,479.94 L459.17,481.48 L459.40,483.01 L459.62,484.55 L459.84,486.09 L460.06,487.63 L460.28,489.17 L460.50,490.70 L460.73,492.24 L460.95,493.78 L461.17,495.32 L461.39,496.85 L461.61,498.39 L461.83,499.93 L462.06,501.47 L462.28,503.01 L462.50,504.54 L462.72,506.08 L462.94,507.62 L463.17,509.16 L463.39,510.69 L463.61,512.23 L463.83,513.77 L464.05,515.31 L464.27,516.85 L464.50,518.38 L464.72,519.92 L464.94,521.46 L465.16,520.60 L465.38,519.76 L465.61,518.92 L465.83,518.09 L466.05,517.27 L466.27,516.46 L466.49,515.66 L466.71,514.87 L466.94,514.09 L467.16,513.31 L467.71,511.41 L468.27,509.57 L468.82,507.77 L469.38,506.03 L469.93,504.33 L470.49,502.68 L471.04,501.08 L471.59,499.52 L472.15,498.00 L472.70,496.52 L473.26,495.09 L473.81,493.69 L474.37,492.34 L474.92,491.02 L475.48,489.74 L476.03,488.49 L476.58,487.28 L477.14,486.10 L477.69,484.95 L478.25,483.84 L478.80,482.75 L479.36,481.70 L479.91,480.67 L480.47,479.68 L481.02,478.71 L481.57,477.76 L482.13,476.85 L482.68,475.96 L483.24,475.09 L483.79,474.25 L484.35,473.43 L484.90,472.63 L485.46,471.85 L486.01,471.10 L486.57,470.37 L487.12,469.66 L487.67,468.96 L488.23,468.29 L488.78,467.64 L489.34,467.00 L489.89,466.38 L490.45,465.78 L491.00,465.19 L491.56,464.62 L492.11,464.07 L492.66,463.53 L493.22,463.01 L493.77,462.50 L494.33,462.00 L494.88,461.52 L495.44,461.05 L495.99,460.60 L496.55,460.15 L497.10,459.72 L497.66,459.31 L498.21,458.90 L498.76,458.50 L500.98,457.03 L503.20,455.71 L505.42,454.53 L507.64,453.47 L509.85,452.53 L512.07,451.68 L514.29,450.93 L516.51,450.26 L518.73,449.65 L520.94,449.12 L523.16,448.63 L525.38,448.20 L527.60,447.82 L529.82,447.47 L532.03,447.17 L534.25,446.89 L536.47,446.64 L538.69,446.42 L540.91,446.23 L543.12,446.05 L545.34,445.89 L547.56,445.75 L549.78,445.63 L552.00,445.52 L554.21,445.42 L556.43,445.33 L558.65,445.25 L560.87,445.17 L563.09,445.11 L565.30,445.05 L567.52,445.00 L569.74,444.96 L571.96,444.91 L574.18,444.88 L576.39,444.85 L578.61,444.82 L580.83,444.79 L583.05,444.77 L585.27,444.75 L587.48,444.73 L589.70,444.71 L591.92,444.69 L594.14,444.68 L596.36,444.67 L598.57,444.66 L600.79,444.65 L603.01,444.64 L605.23,444.63 L607.45,444.63 L609.66,444.62 L611.88,444.61 L614.10,444.61 L616.32,444.61 L618.54,444.60 L620.75,444.60 L622.97,444.59 L625.19,444.59 L627.41,444.59 L629.63,444.59 L631.84,444.59 L634.06,444.58 L636.28,444.58 L638.50,444.58 L640.72,444.58 L642.93,444.58 L645.15,444.58 L647.37,444.58 L649.59,444.58 L651.81,444.57 L654.02,444.57 L656.24,444.57 L658.46,444.57 L660.68,444.57 L662.90,444.57 L665.11,444.57 L667.33,444.57 L669.55,444.57 L671.77,444.57 L673.99,444.57 L676.20,444.57 L678.42,444.57 L680.64,444.57 L682.86,444.57 L685.08,444.57 L687.29,444.57 L689.51,444.57 L691.73,444.57 L693.95,444.57 L696.17,444.57 L698.38,444.57 L700.60,444.57 L702.82,444.57 L705.04,444.57 L707.26,444.57 L709.47,444.57 L711.69,444.57 L713.91,444.57 L716.13,444.57 L718.35,444.57 L720.56,444.57 L722.78,444.57 L725.00,444.57 L727.22,444.57 L729.44,444.57 L731.65,444.57 L733.87,444.57 L736.09,444.57 L738.31,444.57 L740.53,444.57 L742.74,444.57 L744.96,444.57 L747.18,444.57 L749.40,444.57 L751.62,444.57 L753.83,444.57 L756.05,444.57 L758.27,444.57 L760.49,444.57 L762.71,444.57 L764.92,444.57 L767.14,444.57 L769.36,444.57 L771.58,444.57 L773.80,444.57 L776.01,444.57 L778.23,444.57 L780.45,444.57 L782.67,444.57 L784.89,444.57 L786.55,444.57" stroke="#000" stroke-width="1.50" fill="none" stroke-dasharray="3.96 4.16"/>
<path d="M453.85,444.57 L786.55,444.57" stroke="#000" stroke-width="1.60" fill="none"/>
<path d="M501.90,539.40 L519.40,539.40" stroke="#000" stroke-width="1.50" fill="none"/>
<text x="529.47" y="545.30" font-size="16.22" font-weight="normal" text-anchor="start" textLength="89.04" lengthAdjust="spacingAndGlyphs">Steady state</text>
<path d="M501.90,559.40 L519.40,559.40" stroke="#000" stroke-width="1.50" fill="none" stroke-dasharray="4.09 3.68"/>
<text x="530.17" y="565.30" font-size="16.22" font-weight="normal" text-anchor="start" textLength="68.77" lengthAdjust="spacingAndGlyphs">Acute d 0</text>
<path d="M501.90,579.70 L519.40,579.70" stroke="#000" stroke-width="1.50" fill="none" stroke-dasharray="4.09 3.27 1.53 3.47"/>
<text x="530.17" y="585.30" font-size="16.22" font-weight="normal" text-anchor="start" textLength="68.44" lengthAdjust="spacingAndGlyphs">Acute d 3</text>
<path d="M643.70,538.40 L659.80,538.40" stroke="#000" stroke-width="1.50" fill="none" stroke-dasharray="1.33 3.47"/>
<text x="672.17" y="544.20" font-size="16.22" font-weight="normal" text-anchor="start" textLength="68.80" lengthAdjust="spacingAndGlyphs">Acute d 9</text>
<path d="M643.70,557.70 L659.80,557.70" stroke="#000" stroke-width="1.50" fill="none" stroke-dasharray="4.09 3.37 1.43 3.68 1.43 4.09"/>
<text x="671.37" y="563.50" font-size="16.22" font-weight="normal" text-anchor="start" textLength="83.47" lengthAdjust="spacingAndGlyphs">Chronic d 0</text>
</g>
<g>
<text x="435.20" y="677.25" font-size="19.50" font-weight="bold" text-anchor="start">F</text>
<path d="M456.90,707.85 L456.90,929.80" stroke="#000" stroke-width="1.5" fill="none" stroke-linecap="square"/>
<path d="M456.90,929.80 L789.50,929.80" stroke="#000" stroke-width="1.5" fill="none" stroke-linecap="square"/>
<path d="M452.30,929.80 L456.90,929.80" stroke="#000" stroke-width="1.4"/>
<text x="443.81" y="934.00" font-size="12.60" font-weight="bold" text-anchor="start">0</text>
<path d="M452.30,855.82 L456.90,855.82" stroke="#000" stroke-width="1.4"/>
<text x="443.64" y="860.00" font-size="12.60" font-weight="bold" text-anchor="start">5</text>
<path d="M452.30,781.83 L456.90,781.83" stroke="#000" stroke-width="1.4"/>
<path d="M768,0L768,1430L545,1430Q500,1310 380,1215Q250,1120 124,1080L124,835Q335,905 487,1040L487,0Z" transform="translate(436.80,786.00) scale(0.00615,-0.00615)"/><text x="443.81" y="786.00" font-size="12.60" font-weight="bold" text-anchor="start">0</text>
<path d="M452.30,707.85 L456.90,707.85" stroke="#000" stroke-width="1.4"/>
<path d="M768,0L768,1430L545,1430Q500,1310 380,1215Q250,1120 124,1080L124,835Q335,905 487,1040L487,0Z" transform="translate(436.64,712.00) scale(0.00615,-0.00615)"/><text x="443.64" y="712.00" font-size="12.60" font-weight="bold" text-anchor="start">5</text>
<path d="M456.90,929.80 L456.90,934.40" stroke="#000" stroke-width="1.4"/>
<text x="453.41" y="949.00" font-size="12.60" font-weight="bold" text-anchor="start">0</text>
<path d="M512.33,929.80 L512.33,934.40" stroke="#000" stroke-width="1.4"/>
<text x="508.81" y="949.00" font-size="12.60" font-weight="bold" text-anchor="start">5</text>
<path d="M567.77,929.80 L567.77,934.40" stroke="#000" stroke-width="1.4"/>
<path d="M768,0L768,1430L545,1430Q500,1310 380,1215Q250,1120 124,1080L124,835Q335,905 487,1040L487,0Z" transform="translate(560.64,949.00) scale(0.00615,-0.00615)"/><text x="567.64" y="949.00" font-size="12.60" font-weight="bold" text-anchor="start">0</text>
<path d="M623.20,929.80 L623.20,934.40" stroke="#000" stroke-width="1.4"/>
<path d="M768,0L768,1430L545,1430Q500,1310 380,1215Q250,1120 124,1080L124,835Q335,905 487,1040L487,0Z" transform="translate(615.99,949.00) scale(0.00615,-0.00615)"/><text x="622.99" y="949.00" font-size="12.60" font-weight="bold" text-anchor="start">5</text>
<path d="M678.63,929.80 L678.63,934.40" stroke="#000" stroke-width="1.4"/>
<text x="671.67" y="949.00" font-size="12.60" font-weight="bold" text-anchor="start">20</text>
<path d="M734.07,929.80 L734.07,934.40" stroke="#000" stroke-width="1.4"/>
<text x="727.02" y="949.00" font-size="12.60" font-weight="bold" text-anchor="start">25</text>
<path d="M789.50,929.80 L789.50,934.40" stroke="#000" stroke-width="1.4"/>
<text x="782.61" y="949.00" font-size="12.60" font-weight="bold" text-anchor="start">30</text>
<text transform="translate(427.00,926.30) rotate(-90)" x="-0.88" y="0" font-size="20.73" textLength="217.07" lengthAdjust="spacingAndGlyphs">apo-RBP input (µmol/d)</text>
<text x="589.19" y="972.00" font-size="18.40" font-weight="normal" text-anchor="start" textLength="68.66" lengthAdjust="spacingAndGlyphs">Time (d)</text>
<path d="M456.90,855.22 L789.50,855.22" stroke="#000" stroke-width="1.50" fill="none" stroke-dasharray="4.26 3.75 1.12 3.75 1.12 4.26"/>
<path d="M556.68,780.65 L556.90,782.14 L557.12,783.63 L557.35,785.12 L557.57,786.62 L557.79,788.11 L558.01,789.60 L558.23,791.09 L558.45,792.58 L558.68,794.07 L558.90,795.56 L559.12,797.06 L559.34,798.55 L559.56,800.04 L559.78,801.53 L560.01,803.02 L560.23,804.51 L560.45,806.01 L560.67,807.50 L560.89,808.99 L561.11,810.48 L561.34,811.97 L561.56,813.46 L561.78,814.95 L562.00,816.45 L562.22,817.94 L562.45,819.43 L562.67,820.92 L562.89,822.41 L563.11,823.90 L563.33,825.39 L563.55,826.89 L563.78,828.38 L564.00,829.87 L564.22,831.36 L564.44,832.85 L564.66,834.34 L564.88,835.84 L565.11,837.33 L565.33,838.82 L565.55,840.31 L565.77,841.80 L565.99,843.29 L566.21,844.78 L566.44,846.28 L566.66,847.77 L566.88,849.26 L567.10,850.75 L567.32,852.24 L567.54,853.73 L567.77,855.22 L567.99,854.48 L568.21,853.75 L568.43,853.02 L568.65,852.30 L568.88,851.59 L569.10,850.88 L569.32,850.18 L569.54,849.49 L569.76,848.81 L569.98,848.13 L570.21,847.46 L570.76,845.81 L571.31,844.20 L571.87,842.63 L572.42,841.10 L572.98,839.61 L573.53,838.15 L574.09,836.73 L574.64,835.35 L575.19,834.00 L575.75,832.68 L576.30,831.39 L576.86,830.14 L577.41,828.92 L577.97,827.73 L578.52,826.57 L579.08,825.43 L579.63,824.33 L580.18,823.25 L580.74,822.20 L581.29,821.17 L581.85,820.17 L582.40,819.19 L582.96,818.24 L583.51,817.31 L584.06,816.41 L584.62,815.53 L585.17,814.66 L585.73,813.82 L586.28,813.01 L586.84,812.21 L587.39,811.43 L587.94,810.67 L588.50,809.93 L589.05,809.20 L589.61,808.50 L590.16,807.81 L590.72,807.14 L591.27,806.49 L591.82,805.85 L592.38,805.23 L592.93,804.62 L593.49,804.03 L594.04,803.45 L594.60,802.89 L595.15,802.34 L595.71,801.80 L596.26,801.28 L596.81,800.77 L597.37,800.27 L597.92,799.79 L598.48,799.32 L599.03,798.86 L599.59,798.41 L600.14,797.97 L600.69,797.54 L601.25,797.12 L603.47,795.56 L605.68,794.14 L607.90,792.85 L610.12,791.69 L612.34,790.64 L614.55,789.69 L616.77,788.83 L618.99,788.05 L621.20,787.35 L623.42,786.71 L625.64,786.13 L627.86,785.61 L630.07,785.14 L632.29,784.71 L634.51,784.33 L636.73,783.98 L638.94,783.66 L641.16,783.37 L643.38,783.11 L645.60,782.88 L647.81,782.67 L650.03,782.48 L652.25,782.30 L654.46,782.14 L656.68,782.00 L658.90,781.87 L661.12,781.76 L663.33,781.65 L665.55,781.56 L667.77,781.47 L669.99,781.39 L672.20,781.32 L674.42,781.26 L676.64,781.20 L678.86,781.15 L681.07,781.10 L683.29,781.06 L685.51,781.02 L687.72,780.98 L689.94,780.95 L692.16,780.92 L694.38,780.90 L696.59,780.87 L698.81,780.85 L701.03,780.83 L703.25,780.82 L705.46,780.80 L707.68,780.79 L709.90,780.77 L712.12,780.76 L714.33,780.75 L716.55,780.74 L718.77,780.73 L720.98,780.72 L723.20,780.72 L725.42,780.71 L727.64,780.70 L729.85,780.70 L732.07,780.69 L734.29,780.69 L736.51,780.69 L738.72,780.68 L740.94,780.68 L743.16,780.68 L745.38,780.67 L747.59,780.67 L749.81,780.67 L752.03,780.67 L754.24,780.67 L756.46,780.66 L758.68,780.66 L760.90,780.66 L763.11,780.66 L765.33,780.66 L767.55,780.66 L769.77,780.66 L771.98,780.66 L774.20,780.66 L776.42,780.66 L778.64,780.66 L780.85,780.65 L783.07,780.65 L785.29,780.65 L787.50,780.65 L789.50,780.65" stroke="#000" stroke-width="1.50" fill="none" stroke-dasharray="1.22 3.85"/>
<path d="M490.16,780.65 L490.38,782.14 L490.60,783.63 L490.83,785.12 L491.05,786.62 L491.27,788.11 L491.49,789.60 L491.71,791.09 L491.93,792.58 L492.16,794.07 L492.38,795.56 L492.60,797.06 L492.82,798.55 L493.04,800.04 L493.26,801.53 L493.49,803.02 L493.71,804.51 L493.93,806.01 L494.15,807.50 L494.37,808.99 L494.59,810.48 L494.82,811.97 L495.04,813.46 L495.26,814.95 L495.48,816.45 L495.70,817.94 L495.93,819.43 L496.15,820.92 L496.37,822.41 L496.59,823.90 L496.81,825.39 L497.03,826.89 L497.26,828.38 L497.48,829.87 L497.70,831.36 L497.92,832.85 L498.14,834.34 L498.36,835.84 L498.59,837.33 L498.81,838.82 L499.03,840.31 L499.25,841.80 L499.47,843.29 L499.69,844.78 L499.92,846.28 L500.14,847.77 L500.36,849.26 L500.58,850.75 L500.80,852.24 L501.02,853.73 L501.25,855.22 L501.47,854.48 L501.69,853.75 L501.91,853.02 L502.13,852.30 L502.36,851.59 L502.58,850.88 L502.80,850.18 L503.02,849.49 L503.24,848.81 L503.46,848.13 L503.69,847.46 L504.24,845.81 L504.79,844.20 L505.35,842.63 L505.90,841.10 L506.46,839.61 L507.01,838.15 L507.57,836.73 L508.12,835.35 L508.67,834.00 L509.23,832.68 L509.78,831.39 L510.34,830.14 L510.89,828.92 L511.45,827.73 L512.00,826.57 L512.56,825.43 L513.11,824.33 L513.66,823.25 L514.22,822.20 L514.77,821.17 L515.33,820.17 L515.88,819.19 L516.44,818.24 L516.99,817.31 L517.54,816.41 L518.10,815.53 L518.65,814.66 L519.21,813.82 L519.76,813.01 L520.32,812.21 L520.87,811.43 L521.42,810.67 L521.98,809.93 L522.53,809.20 L523.09,808.50 L523.64,807.81 L524.20,807.14 L524.75,806.49 L525.30,805.85 L525.86,805.23 L526.41,804.62 L526.97,804.03 L527.52,803.45 L528.08,802.89 L528.63,802.34 L529.19,801.80 L529.74,801.28 L530.29,800.77 L530.85,800.27 L531.40,799.79 L531.96,799.32 L532.51,798.86 L533.07,798.41 L533.62,797.97 L534.17,797.54 L534.73,797.12 L536.95,795.56 L539.16,794.14 L541.38,792.85 L543.60,791.69 L545.82,790.64 L548.03,789.69 L550.25,788.83 L552.47,788.05 L554.68,787.35 L556.90,786.71 L559.12,786.13 L561.34,785.61 L563.55,785.14 L565.77,784.71 L567.99,784.33 L570.21,783.98 L572.42,783.66 L574.64,783.37 L576.86,783.11 L579.08,782.88 L581.29,782.67 L583.51,782.48 L585.73,782.30 L587.94,782.14 L590.16,782.00 L592.38,781.87 L594.60,781.76 L596.81,781.65 L599.03,781.56 L601.25,781.47 L603.47,781.39 L605.68,781.32 L607.90,781.26 L610.12,781.20 L612.34,781.15 L614.55,781.10 L616.77,781.06 L618.99,781.02 L621.20,780.98 L623.42,780.95 L625.64,780.92 L627.86,780.90 L630.07,780.87 L632.29,780.85 L634.51,780.83 L636.73,780.82 L638.94,780.80 L641.16,780.79 L643.38,780.77 L645.60,780.76 L647.81,780.75 L650.03,780.74 L652.25,780.73 L654.46,780.72 L656.68,780.72 L658.90,780.71 L661.12,780.70 L663.33,780.70 L665.55,780.69 L667.77,780.69 L669.99,780.69 L672.20,780.68 L674.42,780.68 L676.64,780.68 L678.86,780.67 L681.07,780.67 L683.29,780.67 L685.51,780.67 L687.72,780.67 L689.94,780.66 L692.16,780.66 L694.38,780.66 L696.59,780.66 L698.81,780.66 L701.03,780.66 L703.25,780.66 L705.46,780.66 L707.68,780.66 L709.90,780.66 L712.12,780.66 L714.33,780.65 L716.55,780.65 L718.77,780.65 L720.98,780.65 L723.20,780.65 L725.42,780.65 L727.64,780.65 L729.85,780.65 L732.07,780.65 L734.29,780.65 L736.51,780.65 L738.72,780.65 L740.94,780.65 L743.16,780.65 L745.38,780.65 L747.59,780.65 L749.81,780.65 L752.03,780.65 L754.24,780.65 L756.46,780.65 L758.68,780.65 L760.90,780.65 L763.11,780.65 L765.33,780.65 L767.55,780.65 L769.77,780.65 L771.98,780.65 L774.20,780.65 L776.42,780.65 L778.64,780.65 L780.85,780.65 L783.07,780.65 L785.29,780.65 L787.50,780.65 L789.50,780.65" stroke="#000" stroke-width="1.50" fill="none" stroke-dasharray="4.06 3.95 1.22 4.06" stroke-dashoffset="7.20"/>
<path d="M456.90,780.65 L457.12,782.14 L457.34,783.63 L457.57,785.12 L457.79,786.62 L458.01,788.11 L458.23,789.60 L458.45,791.09 L458.67,792.58 L458.90,794.07 L459.12,795.56 L459.34,797.06 L459.56,798.55 L459.78,800.04 L460.00,801.53 L460.23,803.02 L460.45,804.51 L460.67,806.01 L460.89,807.50 L461.11,808.99 L461.33,810.48 L461.56,811.97 L461.78,813.46 L462.00,814.95 L462.22,816.45 L462.44,817.94 L462.67,819.43 L462.89,820.92 L463.11,822.41 L463.33,823.90 L463.55,825.39 L463.77,826.89 L464.00,828.38 L464.22,829.87 L464.44,831.36 L464.66,832.85 L464.88,834.34 L465.10,835.84 L465.33,837.33 L465.55,838.82 L465.77,840.31 L465.99,841.80 L466.21,843.29 L466.43,844.78 L466.66,846.28 L466.88,847.77 L467.10,849.26 L467.32,850.75 L467.54,852.24 L467.76,853.73 L467.99,855.22 L468.21,854.48 L468.43,853.75 L468.65,853.02 L468.87,852.30 L469.10,851.59 L469.32,850.88 L469.54,850.18 L469.76,849.49 L469.98,848.81 L470.20,848.13 L470.76,846.46 L471.31,844.84 L471.87,843.25 L472.42,841.71 L472.98,840.20 L473.53,838.73 L474.08,837.29 L474.64,835.90 L475.19,834.53 L475.75,833.20 L476.30,831.90 L476.86,830.64 L477.41,829.40 L477.96,828.20 L478.52,827.03 L479.07,825.88 L479.63,824.76 L480.18,823.68 L480.74,822.61 L481.29,821.58 L481.84,820.57 L482.40,819.58 L482.95,818.62 L483.51,817.68 L484.06,816.77 L484.62,815.88 L485.17,815.01 L485.73,814.16 L486.28,813.33 L486.83,812.52 L487.39,811.74 L487.94,810.97 L488.50,810.22 L489.05,809.49 L489.61,808.78 L490.16,808.08 L490.71,807.41 L491.27,806.75 L491.82,806.10 L492.38,805.47 L492.93,804.86 L493.49,804.26 L494.04,803.68 L494.59,803.11 L495.15,802.56 L495.70,802.02 L496.26,801.49 L496.81,800.97 L497.37,800.47 L497.92,799.98 L498.47,799.51 L499.03,799.04 L499.58,798.59 L500.14,798.14 L500.69,797.71 L501.25,797.29 L501.80,796.88 L504.02,795.33 L506.24,793.94 L508.45,792.67 L510.67,791.53 L512.89,790.49 L515.10,789.56 L517.32,788.71 L519.54,787.94 L521.76,787.25 L523.97,786.62 L526.19,786.05 L528.41,785.54 L530.63,785.07 L532.84,784.65 L535.06,784.27 L537.28,783.93 L539.50,783.61 L541.71,783.33 L543.93,783.08 L546.15,782.85 L548.36,782.64 L550.58,782.45 L552.80,782.28 L555.02,782.12 L557.23,781.98 L559.45,781.85 L561.67,781.74 L563.89,781.64 L566.10,781.54 L568.32,781.46 L570.54,781.38 L572.76,781.31 L574.97,781.25 L577.19,781.19 L579.41,781.14 L581.62,781.09 L583.84,781.05 L586.06,781.01 L588.28,780.98 L590.49,780.95 L592.71,780.92 L594.93,780.89 L597.15,780.87 L599.36,780.85 L601.58,780.83 L603.80,780.81 L606.02,780.80 L608.23,780.78 L610.45,780.77 L612.67,780.76 L614.88,780.75 L617.10,780.74 L619.32,780.73 L621.54,780.72 L623.75,780.72 L625.97,780.71 L628.19,780.70 L630.41,780.70 L632.62,780.69 L634.84,780.69 L637.06,780.69 L639.28,780.68 L641.49,780.68 L643.71,780.68 L645.93,780.67 L648.14,780.67 L650.36,780.67 L652.58,780.67 L654.80,780.67 L657.01,780.66 L659.23,780.66 L661.45,780.66 L663.67,780.66 L665.88,780.66 L668.10,780.66 L670.32,780.66 L672.54,780.66 L674.75,780.66 L676.97,780.66 L679.19,780.66 L681.40,780.65 L683.62,780.65 L685.84,780.65 L688.06,780.65 L690.27,780.65 L692.49,780.65 L694.71,780.65 L696.93,780.65 L699.14,780.65 L701.36,780.65 L703.58,780.65 L705.80,780.65 L708.01,780.65 L710.23,780.65 L712.45,780.65 L714.66,780.65 L716.88,780.65 L719.10,780.65 L721.32,780.65 L723.53,780.65 L725.75,780.65 L727.97,780.65 L730.19,780.65 L732.40,780.65 L734.62,780.65 L736.84,780.65 L739.06,780.65 L741.27,780.65 L743.49,780.65 L745.71,780.65 L747.92,780.65 L750.14,780.65 L752.36,780.65 L754.58,780.65 L756.79,780.65 L759.01,780.65 L761.23,780.65 L763.45,780.65 L765.66,780.65 L767.88,780.65 L770.10,780.65 L772.32,780.65 L774.53,780.65 L776.75,780.65 L778.97,780.65 L781.18,780.65 L783.40,780.65 L785.62,780.65 L787.84,780.65 L789.50,780.65" stroke="#000" stroke-width="1.50" fill="none" stroke-dasharray="3.95 4.16"/>
<path d="M456.90,780.65 L789.50,780.65" stroke="#000" stroke-width="1.60" fill="none"/>
<path d="M505.00,873.10 L522.50,873.10" stroke="#000" stroke-width="1.50" fill="none"/>
<text x="532.68" y="879.40" font-size="16.13" font-weight="normal" text-anchor="start" textLength="88.58" lengthAdjust="spacingAndGlyphs">Steady state</text>
<path d="M505.00,893.20 L522.50,893.20" stroke="#000" stroke-width="1.50" fill="none" stroke-dasharray="4.08 3.68"/>
<text x="533.37" y="899.00" font-size="16.13" font-weight="normal" text-anchor="start" textLength="68.26" lengthAdjust="spacingAndGlyphs">Acute d 0</text>
<path d="M505.00,913.60 L522.50,913.60" stroke="#000" stroke-width="1.50" fill="none" stroke-dasharray="4.08 3.27 1.53 3.47"/>
<text x="533.37" y="919.20" font-size="16.13" font-weight="normal" text-anchor="start" textLength="67.94" lengthAdjust="spacingAndGlyphs">Acute d 3</text>
<path d="M646.40,872.50 L663.00,872.50" stroke="#000" stroke-width="1.50" fill="none" stroke-dasharray="1.33 3.47"/>
<text x="675.17" y="878.30" font-size="16.13" font-weight="normal" text-anchor="start" textLength="68.70" lengthAdjust="spacingAndGlyphs">Acute d 9</text>
<path d="M646.40,891.80 L663.00,891.80" stroke="#000" stroke-width="1.50" fill="none" stroke-dasharray="4.08 3.37 1.43 3.68 1.43 4.08"/>
<text x="674.38" y="897.40" font-size="16.13" font-weight="normal" text-anchor="start" textLength="82.86" lengthAdjust="spacingAndGlyphs">Chronic d 0</text>
</g>
</svg>
</body></html>
